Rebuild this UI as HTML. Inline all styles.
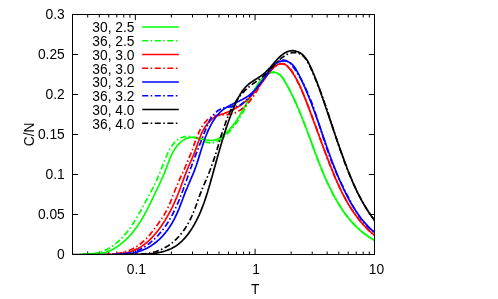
<!DOCTYPE html>
<html><head><meta charset="utf-8"><title>C/N vs T</title>
<style>
html,body{margin:0;padding:0;background:#fff;}
body{width:498px;height:299px;overflow:hidden;}
svg{display:block;}
.t{filter:grayscale(1);}
text{font-family:"Liberation Sans",sans-serif;font-size:13.8px;fill:#000;}
</style></head><body>
<svg width="498" height="299" viewBox="0 0 498 299">
<rect width="498" height="299" fill="#fff"/>
<defs><clipPath id="c"><rect x="72.5" y="14" width="302.5" height="241"/></clipPath></defs>
<path d="M72.5,214.5 h5.7 M374.5,214.5 h-5.7 M72.5,174.5 h5.7 M374.5,174.5 h-5.7 M72.5,134.5 h5.7 M374.5,134.5 h-5.7 M72.5,94.5 h5.7 M374.5,94.5 h-5.7 M72.5,54.5 h5.7 M374.5,54.5 h-5.7 M87.71,254.5 v-3 M87.71,14.5 v3 M99.31,254.5 v-3 M99.31,14.5 v3 M108.79,254.5 v-3 M108.79,14.5 v3 M116.81,254.5 v-3 M116.81,14.5 v3 M123.75,254.5 v-3 M123.75,14.5 v3 M129.87,254.5 v-3 M129.87,14.5 v3 M135.35,254.5 v-5.7 M135.35,14.5 v5.7 M171.39,254.5 v-3 M171.39,14.5 v3 M192.47,254.5 v-3 M192.47,14.5 v3 M207.43,254.5 v-3 M207.43,14.5 v3 M219.04,254.5 v-3 M219.04,14.5 v3 M228.51,254.5 v-3 M228.51,14.5 v3 M236.53,254.5 v-3 M236.53,14.5 v3 M243.47,254.5 v-3 M243.47,14.5 v3 M249.60,254.5 v-3 M249.60,14.5 v3 M255.08,254.5 v-5.7 M255.08,14.5 v5.7 M291.12,254.5 v-3 M291.12,14.5 v3 M312.20,254.5 v-3 M312.20,14.5 v3 M327.16,254.5 v-3 M327.16,14.5 v3 M338.76,254.5 v-3 M338.76,14.5 v3 M348.24,254.5 v-3 M348.24,14.5 v3 M356.25,254.5 v-3 M356.25,14.5 v3 M363.20,254.5 v-3 M363.20,14.5 v3 M369.32,254.5 v-3 M369.32,14.5 v3" stroke="#000" stroke-width="1" fill="none"/>
<g clip-path="url(#c)" fill="none" stroke-width="1.7" stroke-linejoin="round">
<path d="M83.9,254.5 L84.7,254.5 L85.6,254.3 L86.4,254.2 L87.2,254.1 L88.0,254.1 L88.8,254.0 L89.6,254.0 L90.4,253.9 L91.2,253.9 L92.0,253.9 L92.8,253.9 L93.7,253.8 L94.5,253.8 L95.3,253.8 L96.1,253.8 L96.9,253.7 L97.7,253.7 L98.4,253.6 L99.2,253.6 L100.0,253.5 L100.8,253.4 L101.6,253.3 L102.4,253.1 L103.2,253.0 L103.9,252.8 L104.7,252.6 L105.5,252.4 L106.2,252.2 L107.0,251.9 L107.7,251.6 L108.5,251.3 L109.2,251.0 L110.0,250.7 L110.7,250.4 L111.4,250.0 L112.1,249.7 L112.8,249.3 L113.6,248.9 L114.3,248.5 L115.0,248.1 L115.7,247.7 L116.3,247.2 L117.0,246.8 L117.7,246.3 L118.4,245.9 L119.0,245.4 L119.7,244.9 L120.3,244.4 L120.9,243.9 L121.6,243.4 L122.2,242.9 L122.8,242.4 L123.4,241.9 L124.0,241.4 L124.6,240.9 L125.2,240.3 L125.8,239.8 L126.3,239.2 L126.9,238.7 L127.5,238.1 L128.0,237.6 L128.6,237.0 L129.1,236.4 L129.7,235.8 L130.2,235.3 L130.7,234.7 L131.2,234.1 L131.7,233.5 L132.2,232.9 L132.7,232.3 L133.2,231.7 L133.7,231.0 L134.2,230.4 L134.7,229.8 L135.2,229.2 L135.6,228.5 L136.1,227.9 L136.6,227.3 L137.0,226.6 L137.5,226.0 L137.9,225.3 L138.4,224.7 L138.8,224.0 L139.2,223.3 L139.7,222.7 L140.1,222.0 L140.5,221.3 L140.9,220.6 L141.3,220.0 L141.8,219.3 L142.2,218.6 L142.6,217.9 L143.0,217.2 L143.4,216.5 L143.8,215.8 L144.2,215.1 L144.5,214.4 L144.9,213.7 L145.3,213.0 L145.7,212.3 L146.1,211.6 L146.5,210.9 L146.8,210.2 L147.2,209.5 L147.6,208.7 L147.9,208.0 L148.3,207.3 L148.7,206.6 L149.0,205.9 L149.4,205.1 L149.8,204.4 L150.1,203.7 L150.5,202.9 L150.8,202.2 L151.2,201.5 L151.5,200.7 L151.9,200.0 L152.2,199.3 L152.6,198.5 L152.9,197.8 L153.3,197.1 L153.6,196.3 L154.0,195.6 L154.3,194.9 L154.7,194.1 L155.0,193.4 L155.4,192.7 L155.7,191.9 L156.1,191.2 L156.4,190.5 L156.8,189.7 L157.1,189.0 L157.5,188.3 L157.8,187.5 L158.2,186.8 L158.5,186.1 L158.9,185.3 L159.2,184.6 L159.6,183.9 L159.9,183.1 L160.3,182.4 L160.6,181.7 L160.9,180.9 L161.3,180.2 L161.6,179.5 L161.9,178.7 L162.3,178.0 L162.6,177.3 L162.9,176.6 L163.2,175.8 L163.5,175.1 L163.9,174.4 L164.2,173.6 L164.5,172.9 L164.8,172.2 L165.0,171.5 L165.3,170.7 L165.6,170.0 L165.9,169.3 L166.2,168.6 L166.4,167.8 L166.7,167.1 L167.0,166.4 L167.2,165.7 L167.5,165.0 L167.7,164.2 L168.0,163.5 L168.3,162.8 L168.5,162.1 L168.8,161.4 L169.1,160.6 L169.4,159.9 L169.6,159.2 L169.9,158.5 L170.2,157.8 L170.5,157.1 L170.9,156.3 L171.2,155.6 L171.5,154.9 L171.9,154.2 L172.2,153.5 L172.6,152.8 L173.0,152.1 L173.4,151.4 L173.8,150.7 L174.3,149.9 L174.7,149.2 L175.2,148.5 L175.7,147.8 L176.2,147.1 L176.7,146.5 L177.2,145.8 L177.8,145.1 L178.3,144.5 L178.9,143.9 L179.5,143.3 L180.1,142.7 L180.7,142.1 L181.3,141.6 L182.0,141.1 L182.6,140.6 L183.3,140.1 L184.0,139.7 L184.6,139.3 L185.3,138.9 L186.0,138.6 L186.7,138.3 L187.5,138.1 L188.2,137.9 L188.9,137.7 L189.7,137.6 L190.4,137.5 L191.2,137.4 L191.9,137.4 L192.7,137.4 L193.5,137.4 L194.3,137.5 L195.1,137.6 L195.9,137.7 L196.6,137.8 L197.4,138.0 L198.2,138.1 L199.1,138.3 L199.9,138.5 L200.7,138.6 L201.5,138.8 L202.3,139.0 L203.1,139.2 L203.9,139.4 L204.7,139.6 L205.5,139.7 L206.3,139.9 L207.1,140.0 L207.9,140.2 L208.7,140.3 L209.5,140.4 L210.3,140.4 L211.1,140.5 L211.9,140.5 L212.6,140.4 L213.4,140.3 L214.2,140.2 L214.9,140.1 L215.7,139.8 L216.4,139.6 L217.1,139.3 L217.8,138.9 L218.6,138.5 L219.3,138.1 L219.9,137.7 L220.6,137.2 L221.3,136.8 L221.9,136.3 L222.6,135.8 L223.2,135.3 L223.9,134.8 L224.5,134.3 L225.1,133.8 L225.7,133.3 L226.3,132.8 L226.8,132.2 L227.4,131.7 L228.0,131.1 L228.5,130.6 L229.1,130.0 L229.6,129.4 L230.1,128.8 L230.7,128.2 L231.2,127.6 L231.7,127.0 L232.2,126.4 L232.7,125.8 L233.2,125.2 L233.6,124.6 L234.1,123.9 L234.6,123.3 L235.0,122.7 L235.5,122.0 L235.9,121.4 L236.4,120.7 L236.8,120.0 L237.3,119.4 L237.7,118.7 L238.1,118.0 L238.6,117.3 L239.0,116.7 L239.4,116.0 L239.8,115.3 L240.2,114.6 L240.6,113.9 L241.0,113.2 L241.4,112.5 L241.8,111.8 L242.2,111.1 L242.6,110.4 L243.0,109.7 L243.4,109.0 L243.8,108.3 L244.2,107.6 L244.6,106.9 L245.0,106.2 L245.4,105.4 L245.8,104.7 L246.2,104.0 L246.6,103.3 L247.0,102.6 L247.4,101.9 L247.8,101.2 L248.2,100.5 L248.6,99.8 L249.0,99.1 L249.4,98.3 L249.8,97.6 L250.2,96.9 L250.6,96.2 L251.0,95.5 L251.4,94.8 L251.8,94.1 L252.2,93.5 L252.7,92.8 L253.1,92.1 L253.5,91.4 L253.9,90.7 L254.3,90.0 L254.7,89.4 L255.1,88.7 L255.5,88.0 L255.9,87.4 L256.3,86.7 L256.7,86.0 L257.1,85.4 L257.5,84.7 L258.0,84.1 L258.4,83.4 L258.8,82.8 L259.2,82.2 L259.7,81.5 L260.2,80.9 L260.7,80.3 L261.2,79.7 L261.7,79.1 L262.3,78.4 L262.8,77.8 L263.4,77.3 L264.1,76.7 L264.7,76.1 L265.4,75.6 L266.0,75.1 L266.7,74.6 L267.4,74.2 L268.1,73.7 L268.9,73.4 L269.6,73.1 L270.3,72.8 L271.1,72.6 L271.8,72.4 L272.5,72.3 L273.3,72.2 L274.0,72.3 L274.7,72.4 L275.4,72.5 L276.2,72.7 L276.8,73.0 L277.5,73.3 L278.2,73.6 L278.8,74.1 L279.4,74.5 L280.0,75.0 L280.6,75.5 L281.1,76.1 L281.6,76.7 L282.1,77.3 L282.6,77.9 L283.1,78.6 L283.5,79.2 L284.0,79.9 L284.4,80.6 L284.8,81.3 L285.2,82.0 L285.6,82.8 L286.0,83.5 L286.4,84.2 L286.8,84.9 L287.2,85.6 L287.6,86.3 L288.0,87.1 L288.4,87.8 L288.8,88.5 L289.2,89.2 L289.5,89.9 L289.9,90.7 L290.3,91.4 L290.7,92.1 L291.0,92.8 L291.4,93.6 L291.7,94.3 L292.1,95.0 L292.5,95.7 L292.8,96.5 L293.2,97.2 L293.5,97.9 L293.9,98.7 L294.2,99.4 L294.5,100.1 L294.9,100.9 L295.2,101.6 L295.5,102.3 L295.9,103.1 L296.2,103.8 L296.5,104.5 L296.9,105.3 L297.2,106.0 L297.5,106.7 L297.8,107.5 L298.1,108.2 L298.5,108.9 L298.8,109.7 L299.1,110.4 L299.4,111.2 L299.7,111.9 L300.0,112.6 L300.3,113.4 L300.6,114.1 L300.9,114.9 L301.2,115.6 L301.5,116.3 L301.8,117.1 L302.1,117.8 L302.4,118.6 L302.7,119.3 L303.0,120.1 L303.3,120.8 L303.6,121.5 L303.9,122.3 L304.2,123.0 L304.5,123.8 L304.7,124.5 L305.0,125.3 L305.3,126.0 L305.6,126.8 L305.9,127.5 L306.2,128.2 L306.5,129.0 L306.7,129.7 L307.0,130.5 L307.3,131.2 L307.6,132.0 L307.8,132.7 L308.1,133.5 L308.4,134.2 L308.7,135.0 L309.0,135.7 L309.2,136.5 L309.5,137.2 L309.8,138.0 L310.1,138.7 L310.3,139.4 L310.6,140.2 L310.9,140.9 L311.2,141.7 L311.4,142.4 L311.7,143.2 L312.0,143.9 L312.3,144.7 L312.5,145.4 L312.8,146.2 L313.1,146.9 L313.4,147.7 L313.6,148.4 L313.9,149.2 L314.2,149.9 L314.5,150.7 L314.7,151.4 L315.0,152.1 L315.3,152.9 L315.6,153.6 L315.9,154.4 L316.1,155.1 L316.4,155.9 L316.7,156.6 L317.0,157.4 L317.3,158.1 L317.5,158.9 L317.8,159.6 L318.1,160.3 L318.4,161.1 L318.7,161.8 L319.0,162.6 L319.3,163.3 L319.6,164.1 L319.9,164.8 L320.1,165.5 L320.4,166.3 L320.7,167.0 L321.0,167.8 L321.3,168.5 L321.6,169.2 L321.9,170.0 L322.2,170.7 L322.5,171.5 L322.9,172.2 L323.2,172.9 L323.5,173.7 L323.8,174.4 L324.1,175.1 L324.4,175.9 L324.7,176.6 L325.0,177.3 L325.4,178.1 L325.7,178.8 L326.0,179.5 L326.3,180.3 L326.7,181.0 L327.0,181.7 L327.3,182.5 L327.7,183.2 L328.0,183.9 L328.3,184.7 L328.7,185.4 L329.0,186.1 L329.4,186.8 L329.7,187.6 L330.1,188.3 L330.4,189.0 L330.8,189.7 L331.1,190.5 L331.5,191.2 L331.9,191.9 L332.2,192.6 L332.6,193.3 L333.0,194.0 L333.4,194.8 L333.7,195.5 L334.1,196.2 L334.5,196.9 L334.9,197.6 L335.3,198.3 L335.7,199.0 L336.1,199.7 L336.5,200.4 L336.9,201.1 L337.3,201.8 L337.7,202.5 L338.1,203.2 L338.5,203.9 L338.9,204.6 L339.4,205.2 L339.8,205.9 L340.2,206.6 L340.6,207.3 L341.1,207.9 L341.5,208.6 L342.0,209.3 L342.4,209.9 L342.9,210.6 L343.3,211.3 L343.8,211.9 L344.2,212.6 L344.7,213.2 L345.2,213.9 L345.7,214.5 L346.1,215.1 L346.6,215.8 L347.1,216.4 L347.6,217.0 L348.1,217.6 L348.6,218.3 L349.1,218.9 L349.6,219.5 L350.1,220.1 L350.6,220.7 L351.2,221.3 L351.7,221.9 L352.2,222.5 L352.8,223.1 L353.3,223.7 L353.8,224.2 L354.4,224.8 L354.9,225.4 L355.5,225.9 L356.1,226.5 L356.6,227.0 L357.2,227.6 L357.8,228.1 L358.4,228.7 L359.0,229.2 L359.6,229.7 L360.2,230.3 L360.8,230.8 L361.4,231.3 L362.0,231.8 L362.6,232.3 L363.2,232.8 L363.9,233.3 L364.5,233.8 L365.1,234.3 L365.8,234.7 L366.4,235.2 L367.1,235.7 L367.8,236.1 L368.4,236.6 L369.1,237.0 L369.8,237.5 L370.5,237.9 L371.2,238.3 L371.9,238.7 L372.6,239.2 L373.3,239.6 L374.0,240.0 L374.5,240.3" stroke="#00ff00"/>
<path d="M80.0,254.5 L80.8,254.4 L81.6,254.3 L82.4,254.3 L83.2,254.2 L84.0,254.2 L84.8,254.1 L85.6,254.1 L86.4,254.0 L87.2,254.0 L88.0,254.0 L88.8,253.9 L89.6,253.9 L90.4,253.8 L91.2,253.8 L92.0,253.7 L92.8,253.6 L93.6,253.5 L94.4,253.4 L95.2,253.3 L96.0,253.2 L96.7,253.0 L97.5,252.8 L98.3,252.7 L99.1,252.4 L99.8,252.2 L100.6,252.0 L101.4,251.7 L102.1,251.5 L102.9,251.2 L103.6,250.9 L104.3,250.6 L105.1,250.2 L105.8,249.9 L106.5,249.5 L107.2,249.2 L108.0,248.8 L108.7,248.4 L109.4,248.0 L110.1,247.6 L110.7,247.1 L111.4,246.7 L112.1,246.3 L112.7,245.8 L113.4,245.3 L114.0,244.9 L114.7,244.4 L115.3,243.9 L115.9,243.4 L116.6,242.9 L117.2,242.4 L117.8,241.9 L118.4,241.4 L118.9,240.8 L119.5,240.3 L120.1,239.8 L120.7,239.2 L121.2,238.7 L121.8,238.1 L122.3,237.5 L122.8,237.0 L123.4,236.4 L123.9,235.8 L124.4,235.2 L124.9,234.6 L125.4,234.0 L126.0,233.4 L126.4,232.8 L126.9,232.2 L127.4,231.5 L127.9,230.9 L128.4,230.3 L128.9,229.6 L129.3,229.0 L129.8,228.4 L130.3,227.7 L130.7,227.1 L131.2,226.4 L131.6,225.7 L132.0,225.1 L132.5,224.4 L132.9,223.7 L133.4,223.1 L133.8,222.4 L134.2,221.7 L134.6,221.0 L135.1,220.3 L135.5,219.6 L135.9,219.0 L136.3,218.3 L136.7,217.6 L137.1,216.9 L137.5,216.2 L137.9,215.5 L138.3,214.8 L138.7,214.1 L139.1,213.3 L139.5,212.6 L139.9,211.9 L140.3,211.2 L140.7,210.5 L141.1,209.8 L141.5,209.1 L141.9,208.4 L142.2,207.6 L142.6,206.9 L143.0,206.2 L143.4,205.5 L143.8,204.8 L144.2,204.1 L144.6,203.4 L145.0,202.6 L145.4,201.9 L145.7,201.2 L146.1,200.5 L146.5,199.8 L146.9,199.1 L147.3,198.4 L147.7,197.7 L148.1,196.9 L148.5,196.2 L148.9,195.5 L149.2,194.8 L149.6,194.1 L150.0,193.4 L150.4,192.7 L150.8,192.0 L151.2,191.3 L151.5,190.6 L151.9,189.8 L152.3,189.1 L152.6,188.4 L153.0,187.7 L153.4,187.0 L153.7,186.3 L154.1,185.6 L154.4,184.9 L154.8,184.2 L155.1,183.5 L155.5,182.8 L155.8,182.0 L156.1,181.3 L156.5,180.6 L156.8,179.9 L157.1,179.2 L157.4,178.5 L157.7,177.8 L158.0,177.0 L158.3,176.3 L158.6,175.6 L158.9,174.9 L159.2,174.2 L159.5,173.5 L159.8,172.7 L160.1,172.0 L160.3,171.3 L160.6,170.6 L160.9,169.8 L161.2,169.1 L161.5,168.4 L161.8,167.7 L162.0,166.9 L162.3,166.2 L162.6,165.5 L162.9,164.7 L163.2,164.0 L163.5,163.3 L163.8,162.5 L164.1,161.8 L164.4,161.1 L164.7,160.3 L165.0,159.6 L165.3,158.8 L165.6,158.1 L165.9,157.3 L166.3,156.6 L166.6,155.8 L166.9,155.1 L167.3,154.3 L167.6,153.6 L168.0,152.8 L168.4,152.1 L168.7,151.3 L169.1,150.6 L169.5,149.8 L169.9,149.1 L170.3,148.4 L170.8,147.6 L171.2,146.9 L171.6,146.2 L172.1,145.5 L172.6,144.9 L173.1,144.2 L173.6,143.6 L174.1,143.0 L174.6,142.4 L175.2,141.8 L175.8,141.2 L176.4,140.7 L177.0,140.2 L177.6,139.7 L178.2,139.3 L178.9,138.8 L179.6,138.5 L180.3,138.1 L181.0,137.8 L181.7,137.5 L182.5,137.2 L183.2,137.0 L184.0,136.8 L184.7,136.6 L185.5,136.5 L186.2,136.4 L187.0,136.4 L187.8,136.4 L188.5,136.4 L189.3,136.4 L190.1,136.5 L190.9,136.6 L191.7,136.8 L192.5,137.0 L193.2,137.2 L194.0,137.4 L194.8,137.6 L195.6,137.9 L196.4,138.2 L197.2,138.5 L198.0,138.9 L198.8,139.2 L199.5,139.6 L200.3,139.9 L201.1,140.3 L201.9,140.6 L202.7,140.9 L203.5,141.2 L204.2,141.5 L205.0,141.8 L205.8,142.0 L206.6,142.3 L207.3,142.4 L208.1,142.6 L208.9,142.7 L209.6,142.8 L210.4,142.8 L211.1,142.8 L211.8,142.8 L212.6,142.7 L213.3,142.6 L214.0,142.4 L214.8,142.3 L215.5,142.0 L216.2,141.8 L216.9,141.5 L217.6,141.2 L218.3,140.8 L218.9,140.4 L219.6,140.0 L220.3,139.6 L220.9,139.1 L221.6,138.7 L222.2,138.2 L222.9,137.7 L223.5,137.2 L224.1,136.7 L224.7,136.2 L225.3,135.7 L225.9,135.1 L226.5,134.6 L227.1,134.1 L227.6,133.5 L228.2,133.0 L228.7,132.4 L229.3,131.8 L229.8,131.2 L230.4,130.7 L230.9,130.1 L231.4,129.5 L231.9,128.9 L232.4,128.3 L232.9,127.6 L233.4,127.0 L233.9,126.4 L234.4,125.8 L234.9,125.1 L235.3,124.5 L235.8,123.8 L236.3,123.2 L236.7,122.5 L237.2,121.8 L237.6,121.2 L238.1,120.5 L238.5,119.8 L239.0,119.2 L239.4,118.5 L239.8,117.8 L240.2,117.1 L240.7,116.4 L241.1,115.7 L241.5,115.0 L241.9,114.3 L242.3,113.6 L242.7,112.9 L243.1,112.2 L243.5,111.5 L243.9,110.8 L244.3,110.0 L244.7,109.3 L245.1,108.6 L245.4,107.9 L245.8,107.2 L246.2,106.5 L246.6,105.7 L247.0,105.0 L247.3,104.3 L247.7,103.6 L248.1,102.8 L248.5,102.1 L248.8,101.4 L249.2,100.7 L249.6,100.0 L249.9,99.2 L250.3,98.5 L250.7,97.8 L251.0,97.1 L251.4,96.4 L251.8,95.6 L252.1,94.9 L252.5,94.2 L252.9,93.5 L253.2,92.8 L253.6,92.1 L254.0,91.4 L254.4,90.7 L254.8,90.0 L255.1,89.3 L255.5,88.6 L255.9,87.9 L256.3,87.3 L256.8,86.6 L257.2,85.9 L257.6,85.2 L258.0,84.6 L258.5,83.9 L258.9,83.3 L259.4,82.6 L259.9,82.0 L260.3,81.3 L260.8,80.7 L261.4,80.0 L261.9,79.4 L262.4,78.8 L263.0,78.2 L263.5,77.6 L264.1,77.0 L264.7,76.4 L265.3,75.9 L265.9,75.4 L266.5,74.9 L267.2,74.4 L267.8,74.0 L268.5,73.6 L269.2,73.3 L269.8,73.0 L270.5,72.7 L271.3,72.5 L272.0,72.4 L272.7,72.3 L273.5,72.3 L274.2,72.4 L275.0,72.5 L275.7,72.7 L276.4,72.9 L277.2,73.2 L277.9,73.6 L278.6,73.9 L279.3,74.4 L279.9,74.8 L280.5,75.3 L281.1,75.9 L281.6,76.5 L282.1,77.0 L282.6,77.7 L283.1,78.3 L283.5,79.0 L284.0,79.7 L284.4,80.3 L284.8,81.0 L285.2,81.7 L285.6,82.5 L286.0,83.2 L286.4,83.9 L286.8,84.6 L287.2,85.3 L287.6,86.0 L288.0,86.7 L288.4,87.4 L288.7,88.2 L289.1,88.9 L289.5,89.6 L289.8,90.3 L290.2,91.0 L290.6,91.8 L290.9,92.5 L291.3,93.2 L291.6,93.9 L292.0,94.7 L292.4,95.4 L292.7,96.1 L293.0,96.8 L293.4,97.6 L293.7,98.3 L294.1,99.0 L294.4,99.7 L294.7,100.5 L295.1,101.2 L295.4,101.9 L295.7,102.7 L296.1,103.4 L296.4,104.1 L296.7,104.9 L297.0,105.6 L297.3,106.3 L297.7,107.1 L298.0,107.8 L298.3,108.5 L298.6,109.3 L298.9,110.0 L299.2,110.8 L299.5,111.5 L299.8,112.2 L300.1,113.0 L300.4,113.7 L300.7,114.5 L301.0,115.2 L301.3,115.9 L301.6,116.7 L301.9,117.4 L302.2,118.2 L302.5,118.9 L302.8,119.7 L303.1,120.4 L303.4,121.1 L303.7,121.9 L304.0,122.6 L304.3,123.4 L304.5,124.1 L304.8,124.9 L305.1,125.6 L305.4,126.4 L305.7,127.1 L306.0,127.9 L306.2,128.6 L306.5,129.3 L306.8,130.1 L307.1,130.8 L307.4,131.6 L307.6,132.3 L307.9,133.1 L308.2,133.8 L308.5,134.6 L308.7,135.3 L309.0,136.1 L309.3,136.8 L309.6,137.6 L309.8,138.3 L310.1,139.1 L310.4,139.8 L310.7,140.6 L310.9,141.3 L311.2,142.1 L311.5,142.8 L311.8,143.6 L312.0,144.3 L312.3,145.1 L312.6,145.8 L312.9,146.6 L313.1,147.3 L313.4,148.1 L313.7,148.8 L314.0,149.6 L314.3,150.3 L314.5,151.1 L314.8,151.8 L315.1,152.5 L315.4,153.3 L315.7,154.0 L315.9,154.8 L316.2,155.5 L316.5,156.3 L316.8,157.0 L317.1,157.8 L317.4,158.5 L317.6,159.3 L317.9,160.0 L318.2,160.8 L318.5,161.5 L318.8,162.2 L319.1,163.0 L319.4,163.7 L319.7,164.5 L320.0,165.2 L320.3,166.0 L320.6,166.7 L320.9,167.4 L321.2,168.2 L321.5,168.9 L321.8,169.7 L322.1,170.4 L322.4,171.1 L322.7,171.9 L323.0,172.6 L323.3,173.4 L323.6,174.1 L323.9,174.8 L324.2,175.6 L324.6,176.3 L324.9,177.0 L325.2,177.8 L325.5,178.5 L325.8,179.2 L326.2,180.0 L326.5,180.7 L326.8,181.4 L327.2,182.2 L327.5,182.9 L327.8,183.6 L328.2,184.4 L328.5,185.1 L328.9,185.8 L329.2,186.5 L329.6,187.3 L329.9,188.0 L330.3,188.7 L330.6,189.4 L331.0,190.2 L331.4,190.9 L331.7,191.6 L332.1,192.3 L332.5,193.0 L332.8,193.7 L333.2,194.5 L333.6,195.2 L334.0,195.9 L334.4,196.6 L334.7,197.3 L335.1,198.0 L335.5,198.7 L335.9,199.4 L336.3,200.1 L336.7,200.8 L337.1,201.5 L337.5,202.2 L337.9,202.9 L338.4,203.6 L338.8,204.2 L339.2,204.9 L339.6,205.6 L340.1,206.3 L340.5,207.0 L340.9,207.6 L341.4,208.3 L341.8,209.0 L342.3,209.6 L342.7,210.3 L343.2,211.0 L343.6,211.6 L344.1,212.3 L344.5,212.9 L345.0,213.6 L345.5,214.2 L346.0,214.8 L346.5,215.5 L346.9,216.1 L347.4,216.7 L347.9,217.3 L348.4,218.0 L348.9,218.6 L349.4,219.2 L349.9,219.8 L350.5,220.4 L351.0,221.0 L351.5,221.6 L352.0,222.2 L352.6,222.8 L353.1,223.4 L353.6,223.9 L354.2,224.5 L354.7,225.1 L355.3,225.7 L355.8,226.2 L356.4,226.8 L357.0,227.3 L357.6,227.9 L358.1,228.4 L358.7,229.0 L359.3,229.5 L359.9,230.0 L360.5,230.5 L361.1,231.1 L361.7,231.6 L362.3,232.1 L363.0,232.6 L363.6,233.1 L364.2,233.6 L364.8,234.0 L365.5,234.5 L366.1,235.0 L366.8,235.5 L367.4,235.9 L368.1,236.4 L368.8,236.8 L369.4,237.3 L370.1,237.7 L370.8,238.1 L371.5,238.6 L372.2,239.0 L372.9,239.4 L373.6,239.8 L374.3,240.2 L374.5,240.3" stroke="#00ff00" stroke-dasharray="6 2.4 1.6 2.6"/>
<path d="M110.0,254.4 L110.8,254.4 L111.6,254.5 L112.4,254.4 L113.2,254.4 L114.0,254.4 L114.8,254.4 L115.6,254.3 L116.4,254.3 L117.2,254.2 L118.0,254.1 L118.8,254.1 L119.6,254.0 L120.4,253.9 L121.2,253.7 L122.0,253.6 L122.8,253.5 L123.6,253.3 L124.4,253.2 L125.2,253.0 L125.9,252.9 L126.7,252.7 L127.5,252.5 L128.3,252.3 L129.0,252.0 L129.8,251.8 L130.5,251.6 L131.3,251.3 L132.0,251.1 L132.8,250.8 L133.5,250.5 L134.2,250.2 L135.0,249.9 L135.7,249.6 L136.4,249.2 L137.1,248.9 L137.8,248.5 L138.5,248.2 L139.2,247.8 L139.9,247.4 L140.6,247.0 L141.2,246.6 L141.9,246.1 L142.6,245.7 L143.2,245.2 L143.9,244.8 L144.5,244.3 L145.1,243.8 L145.8,243.3 L146.4,242.8 L147.0,242.3 L147.6,241.8 L148.2,241.2 L148.8,240.7 L149.4,240.1 L150.0,239.6 L150.5,239.0 L151.1,238.4 L151.7,237.9 L152.2,237.3 L152.8,236.7 L153.3,236.1 L153.9,235.5 L154.4,234.9 L154.9,234.2 L155.5,233.6 L156.0,233.0 L156.5,232.4 L157.0,231.7 L157.5,231.1 L158.0,230.5 L158.5,229.8 L159.0,229.2 L159.5,228.5 L160.0,227.9 L160.4,227.2 L160.9,226.6 L161.4,225.9 L161.8,225.2 L162.3,224.6 L162.7,223.9 L163.2,223.3 L163.6,222.6 L164.0,221.9 L164.5,221.2 L164.9,220.6 L165.3,219.9 L165.7,219.2 L166.1,218.5 L166.5,217.8 L166.9,217.1 L167.3,216.5 L167.7,215.8 L168.1,215.1 L168.5,214.4 L168.9,213.7 L169.3,213.0 L169.6,212.3 L170.0,211.6 L170.4,210.9 L170.7,210.2 L171.1,209.5 L171.5,208.7 L171.8,208.0 L172.2,207.3 L172.5,206.6 L172.9,205.9 L173.2,205.2 L173.5,204.5 L173.9,203.7 L174.2,203.0 L174.5,202.3 L174.8,201.6 L175.2,200.8 L175.5,200.1 L175.8,199.4 L176.1,198.7 L176.4,197.9 L176.7,197.2 L177.0,196.5 L177.3,195.7 L177.6,195.0 L177.9,194.3 L178.2,193.5 L178.5,192.8 L178.8,192.0 L179.1,191.3 L179.4,190.6 L179.6,189.8 L179.9,189.1 L180.2,188.3 L180.5,187.6 L180.8,186.8 L181.0,186.1 L181.3,185.3 L181.6,184.6 L181.9,183.9 L182.1,183.1 L182.4,182.4 L182.7,181.6 L182.9,180.9 L183.2,180.1 L183.5,179.4 L183.8,178.6 L184.1,177.9 L184.3,177.1 L184.6,176.4 L184.9,175.6 L185.2,174.8 L185.5,174.1 L185.8,173.3 L186.1,172.6 L186.3,171.8 L186.6,171.1 L186.9,170.3 L187.3,169.6 L187.6,168.8 L187.9,168.1 L188.2,167.3 L188.5,166.6 L188.8,165.8 L189.2,165.1 L189.5,164.3 L189.8,163.6 L190.1,162.8 L190.5,162.1 L190.8,161.3 L191.1,160.6 L191.4,159.8 L191.8,159.1 L192.1,158.3 L192.4,157.6 L192.7,156.8 L193.0,156.1 L193.4,155.3 L193.7,154.6 L194.0,153.8 L194.3,153.1 L194.6,152.3 L194.9,151.6 L195.2,150.9 L195.4,150.1 L195.7,149.4 L196.0,148.6 L196.3,147.9 L196.5,147.2 L196.8,146.4 L197.0,145.7 L197.3,145.0 L197.5,144.2 L197.8,143.5 L198.0,142.8 L198.3,142.0 L198.5,141.3 L198.8,140.6 L199.0,139.9 L199.3,139.1 L199.5,138.4 L199.8,137.7 L200.1,137.0 L200.4,136.2 L200.7,135.5 L201.0,134.8 L201.3,134.1 L201.6,133.4 L201.9,132.7 L202.3,132.0 L202.6,131.3 L203.0,130.6 L203.4,129.9 L203.8,129.2 L204.2,128.5 L204.6,127.8 L205.1,127.1 L205.5,126.4 L206.0,125.7 L206.5,125.0 L207.0,124.3 L207.5,123.7 L208.1,123.0 L208.6,122.4 L209.2,121.8 L209.8,121.2 L210.4,120.6 L211.0,120.0 L211.6,119.4 L212.2,118.9 L212.8,118.4 L213.5,117.9 L214.1,117.4 L214.8,117.0 L215.5,116.6 L216.1,116.3 L216.8,116.0 L217.5,115.7 L218.2,115.4 L218.9,115.1 L219.6,114.9 L220.3,114.7 L221.1,114.4 L221.8,114.2 L222.5,114.0 L223.2,113.7 L224.0,113.5 L224.7,113.2 L225.4,112.9 L226.2,112.7 L226.9,112.4 L227.7,112.1 L228.4,111.8 L229.1,111.5 L229.9,111.1 L230.6,110.8 L231.4,110.5 L232.1,110.1 L232.8,109.7 L233.6,109.4 L234.3,109.0 L235.0,108.6 L235.7,108.2 L236.4,107.8 L237.1,107.4 L237.8,107.0 L238.5,106.6 L239.2,106.1 L239.9,105.7 L240.6,105.2 L241.2,104.8 L241.9,104.3 L242.5,103.8 L243.1,103.3 L243.8,102.8 L244.4,102.3 L245.0,101.8 L245.6,101.3 L246.2,100.8 L246.8,100.3 L247.4,99.7 L248.0,99.2 L248.5,98.6 L249.1,98.1 L249.7,97.5 L250.2,97.0 L250.8,96.4 L251.3,95.8 L251.8,95.2 L252.4,94.6 L252.9,94.1 L253.4,93.5 L253.9,92.9 L254.4,92.3 L255.0,91.6 L255.5,91.0 L256.0,90.4 L256.5,89.8 L257.0,89.2 L257.5,88.5 L257.9,87.9 L258.4,87.3 L258.9,86.6 L259.4,86.0 L259.9,85.4 L260.3,84.7 L260.8,84.1 L261.3,83.4 L261.8,82.8 L262.2,82.1 L262.7,81.5 L263.2,80.8 L263.7,80.2 L264.1,79.5 L264.6,78.9 L265.1,78.2 L265.5,77.5 L266.0,76.9 L266.5,76.2 L267.0,75.6 L267.4,74.9 L267.9,74.3 L268.4,73.6 L268.9,73.0 L269.4,72.3 L269.9,71.7 L270.4,71.1 L270.9,70.4 L271.5,69.8 L272.0,69.2 L272.6,68.6 L273.2,68.1 L273.8,67.5 L274.4,66.9 L275.0,66.4 L275.7,65.9 L276.4,65.4 L277.1,65.0 L277.8,64.6 L278.5,64.3 L279.2,64.0 L279.9,63.8 L280.6,63.6 L281.3,63.5 L282.1,63.5 L282.8,63.6 L283.5,63.7 L284.1,63.9 L284.8,64.2 L285.5,64.6 L286.1,65.1 L286.7,65.6 L287.3,66.1 L287.9,66.8 L288.4,67.4 L289.0,68.1 L289.5,68.7 L290.1,69.4 L290.6,70.1 L291.1,70.8 L291.6,71.5 L292.1,72.1 L292.5,72.8 L293.0,73.5 L293.5,74.2 L293.9,74.9 L294.4,75.6 L294.8,76.3 L295.2,77.0 L295.6,77.7 L296.0,78.4 L296.4,79.1 L296.8,79.8 L297.2,80.5 L297.6,81.2 L297.9,81.9 L298.3,82.6 L298.7,83.3 L299.0,84.0 L299.3,84.7 L299.7,85.4 L300.0,86.1 L300.3,86.8 L300.7,87.5 L301.0,88.3 L301.3,89.0 L301.6,89.7 L301.9,90.4 L302.2,91.1 L302.5,91.9 L302.8,92.6 L303.1,93.3 L303.4,94.0 L303.7,94.7 L304.0,95.5 L304.3,96.2 L304.5,96.9 L304.8,97.7 L305.1,98.4 L305.4,99.1 L305.7,99.8 L305.9,100.6 L306.2,101.3 L306.5,102.0 L306.8,102.8 L307.1,103.5 L307.3,104.3 L307.6,105.0 L307.9,105.7 L308.2,106.5 L308.5,107.2 L308.7,107.9 L309.0,108.7 L309.3,109.4 L309.6,110.2 L309.8,110.9 L310.1,111.7 L310.4,112.4 L310.7,113.2 L311.0,113.9 L311.2,114.6 L311.5,115.4 L311.8,116.1 L312.1,116.9 L312.3,117.6 L312.6,118.4 L312.9,119.1 L313.2,119.9 L313.4,120.6 L313.7,121.4 L314.0,122.1 L314.3,122.9 L314.6,123.6 L314.8,124.4 L315.1,125.1 L315.4,125.9 L315.7,126.7 L315.9,127.4 L316.2,128.2 L316.5,128.9 L316.8,129.7 L317.1,130.4 L317.3,131.2 L317.6,131.9 L317.9,132.7 L318.2,133.5 L318.5,134.2 L318.7,135.0 L319.0,135.7 L319.3,136.5 L319.6,137.2 L319.9,138.0 L320.1,138.8 L320.4,139.5 L320.7,140.3 L321.0,141.0 L321.3,141.8 L321.6,142.5 L321.8,143.3 L322.1,144.1 L322.4,144.8 L322.7,145.6 L323.0,146.3 L323.2,147.1 L323.5,147.8 L323.8,148.6 L324.1,149.4 L324.4,150.1 L324.7,150.9 L325.0,151.6 L325.2,152.4 L325.5,153.1 L325.8,153.9 L326.1,154.7 L326.4,155.4 L326.7,156.2 L327.0,156.9 L327.3,157.7 L327.5,158.4 L327.8,159.2 L328.1,159.9 L328.4,160.7 L328.7,161.4 L329.0,162.2 L329.3,162.9 L329.6,163.7 L329.9,164.5 L330.2,165.2 L330.5,166.0 L330.8,166.7 L331.1,167.5 L331.4,168.2 L331.7,168.9 L332.0,169.7 L332.3,170.4 L332.6,171.2 L332.9,171.9 L333.2,172.7 L333.5,173.4 L333.8,174.2 L334.1,174.9 L334.4,175.6 L334.7,176.4 L335.0,177.1 L335.3,177.9 L335.6,178.6 L336.0,179.3 L336.3,180.1 L336.6,180.8 L336.9,181.5 L337.2,182.3 L337.6,183.0 L337.9,183.7 L338.2,184.4 L338.5,185.2 L338.9,185.9 L339.2,186.6 L339.5,187.3 L339.9,188.1 L340.2,188.8 L340.6,189.5 L340.9,190.2 L341.3,190.9 L341.6,191.6 L342.0,192.4 L342.3,193.1 L342.7,193.8 L343.0,194.5 L343.4,195.2 L343.8,195.9 L344.1,196.6 L344.5,197.3 L344.9,198.0 L345.3,198.7 L345.7,199.4 L346.0,200.1 L346.4,200.8 L346.8,201.4 L347.2,202.1 L347.6,202.8 L348.0,203.5 L348.4,204.2 L348.8,204.9 L349.2,205.5 L349.6,206.2 L350.1,206.9 L350.5,207.5 L350.9,208.2 L351.3,208.9 L351.8,209.5 L352.2,210.2 L352.6,210.9 L353.1,211.5 L353.5,212.2 L354.0,212.8 L354.4,213.5 L354.9,214.1 L355.4,214.8 L355.8,215.4 L356.3,216.0 L356.8,216.7 L357.2,217.3 L357.7,217.9 L358.2,218.6 L358.7,219.2 L359.2,219.8 L359.7,220.4 L360.2,221.0 L360.7,221.6 L361.2,222.3 L361.8,222.9 L362.3,223.5 L362.8,224.1 L363.4,224.7 L363.9,225.3 L364.4,225.9 L365.0,226.4 L365.6,227.0 L366.1,227.6 L366.7,228.2 L367.2,228.8 L367.8,229.3 L368.4,229.9 L369.0,230.5 L369.6,231.0 L370.2,231.6 L370.8,232.2 L371.4,232.7 L372.0,233.3 L372.6,233.8 L373.3,234.4 L373.9,234.9 L374.4,235.4" stroke="#ff0000"/>
<path d="M104.0,254.5 L104.8,254.5 L105.6,254.4 L106.4,254.3 L107.2,254.3 L108.0,254.2 L108.8,254.2 L109.5,254.1 L110.3,254.1 L111.1,254.0 L111.9,253.9 L112.7,253.9 L113.6,253.8 L114.4,253.7 L115.2,253.6 L116.0,253.6 L116.8,253.5 L117.6,253.4 L118.4,253.2 L119.1,253.1 L119.9,253.0 L120.7,252.8 L121.5,252.7 L122.3,252.5 L123.1,252.3 L123.9,252.1 L124.6,251.9 L125.4,251.7 L126.2,251.4 L127.0,251.2 L127.7,250.9 L128.5,250.6 L129.2,250.3 L130.0,250.0 L130.7,249.7 L131.4,249.4 L132.1,249.0 L132.9,248.7 L133.6,248.3 L134.3,247.9 L135.0,247.5 L135.7,247.1 L136.3,246.7 L137.0,246.3 L137.7,245.8 L138.3,245.4 L139.0,245.0 L139.6,244.5 L140.2,244.0 L140.8,243.5 L141.5,243.0 L142.1,242.5 L142.7,242.0 L143.2,241.5 L143.8,241.0 L144.4,240.5 L145.0,239.9 L145.5,239.4 L146.1,238.8 L146.6,238.3 L147.2,237.7 L147.7,237.1 L148.2,236.5 L148.7,235.9 L149.3,235.3 L149.8,234.7 L150.3,234.1 L150.8,233.5 L151.3,232.9 L151.8,232.3 L152.3,231.7 L152.8,231.0 L153.3,230.4 L153.8,229.8 L154.3,229.1 L154.7,228.5 L155.2,227.8 L155.7,227.2 L156.2,226.5 L156.7,225.8 L157.1,225.2 L157.6,224.5 L158.1,223.8 L158.6,223.2 L159.0,222.5 L159.5,221.8 L160.0,221.1 L160.5,220.5 L160.9,219.8 L161.4,219.1 L161.9,218.4 L162.3,217.7 L162.8,217.0 L163.2,216.3 L163.6,215.6 L164.1,214.9 L164.5,214.2 L164.9,213.5 L165.3,212.8 L165.7,212.1 L166.1,211.4 L166.5,210.7 L166.8,210.0 L167.2,209.3 L167.5,208.6 L167.9,207.9 L168.2,207.2 L168.5,206.5 L168.9,205.7 L169.2,205.0 L169.5,204.3 L169.8,203.6 L170.1,202.9 L170.4,202.2 L170.7,201.4 L171.0,200.7 L171.2,200.0 L171.5,199.3 L171.8,198.5 L172.1,197.8 L172.4,197.1 L172.6,196.3 L172.9,195.6 L173.2,194.9 L173.5,194.2 L173.8,193.4 L174.0,192.7 L174.3,192.0 L174.6,191.2 L174.9,190.5 L175.2,189.8 L175.5,189.0 L175.8,188.3 L176.1,187.6 L176.4,186.8 L176.7,186.1 L177.0,185.3 L177.4,184.6 L177.7,183.9 L178.0,183.1 L178.3,182.4 L178.6,181.7 L179.0,180.9 L179.3,180.2 L179.6,179.4 L179.9,178.7 L180.3,178.0 L180.6,177.2 L180.9,176.5 L181.3,175.7 L181.6,175.0 L181.9,174.2 L182.3,173.5 L182.6,172.8 L182.9,172.0 L183.3,171.3 L183.6,170.5 L183.9,169.8 L184.3,169.1 L184.6,168.3 L184.9,167.6 L185.3,166.8 L185.6,166.1 L185.9,165.3 L186.2,164.6 L186.6,163.9 L186.9,163.1 L187.2,162.4 L187.5,161.6 L187.8,160.9 L188.2,160.1 L188.5,159.4 L188.8,158.7 L189.1,157.9 L189.4,157.2 L189.7,156.4 L190.0,155.7 L190.3,154.9 L190.6,154.2 L190.9,153.5 L191.2,152.7 L191.5,152.0 L191.7,151.2 L192.0,150.5 L192.3,149.8 L192.6,149.0 L192.8,148.3 L193.1,147.5 L193.3,146.8 L193.6,146.1 L193.9,145.3 L194.1,144.6 L194.4,143.9 L194.6,143.1 L194.9,142.4 L195.1,141.6 L195.4,140.9 L195.7,140.2 L195.9,139.4 L196.2,138.7 L196.5,138.0 L196.8,137.2 L197.0,136.5 L197.3,135.8 L197.6,135.0 L198.0,134.3 L198.3,133.6 L198.6,132.8 L198.9,132.1 L199.3,131.4 L199.7,130.7 L200.0,129.9 L200.4,129.2 L200.8,128.5 L201.3,127.8 L201.7,127.0 L202.1,126.3 L202.6,125.6 L203.1,124.9 L203.6,124.2 L204.1,123.5 L204.6,122.8 L205.1,122.2 L205.7,121.6 L206.3,121.0 L206.8,120.4 L207.4,119.8 L208.0,119.3 L208.6,118.8 L209.3,118.3 L209.9,117.9 L210.6,117.5 L211.3,117.1 L211.9,116.8 L212.6,116.5 L213.3,116.2 L214.1,116.0 L214.8,115.8 L215.5,115.6 L216.3,115.5 L217.0,115.3 L217.8,115.2 L218.5,115.1 L219.3,115.0 L220.1,115.0 L220.8,114.9 L221.6,114.9 L222.4,114.8 L223.2,114.8 L224.0,114.8 L224.8,114.7 L225.6,114.7 L226.4,114.7 L227.2,114.6 L228.0,114.6 L228.8,114.5 L229.5,114.4 L230.3,114.3 L231.1,114.2 L231.9,114.0 L232.7,113.8 L233.4,113.5 L234.2,113.2 L235.0,112.9 L235.7,112.6 L236.4,112.3 L237.2,111.9 L237.9,111.5 L238.6,111.1 L239.3,110.6 L240.0,110.2 L240.7,109.7 L241.4,109.2 L242.0,108.7 L242.7,108.2 L243.3,107.7 L243.9,107.2 L244.5,106.6 L245.1,106.1 L245.7,105.5 L246.3,105.0 L246.8,104.4 L247.4,103.8 L247.9,103.3 L248.5,102.7 L249.0,102.1 L249.5,101.5 L250.0,100.9 L250.5,100.3 L251.0,99.6 L251.4,99.0 L251.9,98.4 L252.4,97.7 L252.8,97.1 L253.3,96.5 L253.7,95.8 L254.2,95.2 L254.6,94.5 L255.0,93.8 L255.5,93.2 L255.9,92.5 L256.3,91.8 L256.7,91.2 L257.1,90.5 L257.6,89.8 L258.0,89.1 L258.4,88.5 L258.8,87.8 L259.2,87.1 L259.6,86.4 L260.0,85.7 L260.4,85.0 L260.8,84.4 L261.3,83.7 L261.7,83.0 L262.1,82.3 L262.5,81.6 L263.0,80.9 L263.4,80.3 L263.8,79.6 L264.3,78.9 L264.8,78.2 L265.2,77.6 L265.7,76.9 L266.2,76.2 L266.7,75.6 L267.1,74.9 L267.7,74.3 L268.2,73.6 L268.7,73.0 L269.2,72.3 L269.8,71.7 L270.3,71.0 L270.9,70.4 L271.5,69.8 L272.1,69.2 L272.7,68.6 L273.3,68.0 L273.9,67.5 L274.6,67.0 L275.2,66.5 L275.9,66.0 L276.5,65.6 L277.2,65.2 L277.9,64.9 L278.5,64.6 L279.2,64.4 L279.9,64.2 L280.6,64.0 L281.3,64.0 L282.0,64.0 L282.7,64.0 L283.3,64.1 L284.0,64.3 L284.7,64.6 L285.3,64.8 L286.0,65.2 L286.6,65.6 L287.2,66.0 L287.8,66.5 L288.4,67.0 L289.0,67.5 L289.5,68.1 L290.0,68.6 L290.6,69.3 L291.0,69.9 L291.5,70.5 L292.0,71.2 L292.4,71.9 L292.8,72.6 L293.2,73.3 L293.7,74.0 L294.1,74.7 L294.4,75.4 L294.8,76.2 L295.2,76.9 L295.6,77.7 L295.9,78.4 L296.3,79.1 L296.7,79.9 L297.0,80.6 L297.4,81.4 L297.8,82.1 L298.1,82.8 L298.5,83.6 L298.8,84.3 L299.2,85.1 L299.5,85.8 L299.9,86.5 L300.2,87.3 L300.6,88.0 L300.9,88.8 L301.2,89.5 L301.6,90.3 L301.9,91.0 L302.2,91.7 L302.6,92.5 L302.9,93.2 L303.2,94.0 L303.5,94.7 L303.8,95.5 L304.2,96.2 L304.5,97.0 L304.8,97.7 L305.1,98.5 L305.4,99.2 L305.7,99.9 L306.0,100.7 L306.3,101.4 L306.6,102.2 L306.9,102.9 L307.2,103.7 L307.5,104.4 L307.8,105.2 L308.1,105.9 L308.4,106.7 L308.7,107.4 L309.0,108.2 L309.3,108.9 L309.6,109.7 L309.9,110.4 L310.2,111.1 L310.5,111.9 L310.7,112.6 L311.0,113.4 L311.3,114.1 L311.6,114.9 L311.9,115.6 L312.1,116.4 L312.4,117.1 L312.7,117.9 L313.0,118.6 L313.3,119.4 L313.5,120.1 L313.8,120.9 L314.1,121.6 L314.4,122.4 L314.6,123.1 L314.9,123.9 L315.2,124.6 L315.4,125.4 L315.7,126.1 L316.0,126.9 L316.3,127.6 L316.5,128.4 L316.8,129.1 L317.1,129.9 L317.3,130.6 L317.6,131.4 L317.9,132.1 L318.1,132.8 L318.4,133.6 L318.7,134.3 L318.9,135.1 L319.2,135.8 L319.5,136.6 L319.7,137.3 L320.0,138.1 L320.3,138.8 L320.5,139.6 L320.8,140.3 L321.1,141.1 L321.3,141.8 L321.6,142.6 L321.9,143.3 L322.1,144.1 L322.4,144.8 L322.7,145.6 L322.9,146.3 L323.2,147.0 L323.5,147.8 L323.8,148.5 L324.0,149.3 L324.3,150.0 L324.6,150.8 L324.8,151.5 L325.1,152.3 L325.4,153.0 L325.7,153.8 L325.9,154.5 L326.2,155.2 L326.5,156.0 L326.8,156.7 L327.1,157.5 L327.3,158.2 L327.6,159.0 L327.9,159.7 L328.2,160.5 L328.5,161.2 L328.8,161.9 L329.0,162.7 L329.3,163.4 L329.6,164.2 L329.9,164.9 L330.2,165.7 L330.5,166.4 L330.8,167.1 L331.1,167.9 L331.4,168.6 L331.7,169.4 L332.0,170.1 L332.3,170.8 L332.6,171.6 L332.9,172.3 L333.2,173.1 L333.5,173.8 L333.8,174.5 L334.1,175.3 L334.4,176.0 L334.8,176.7 L335.1,177.5 L335.4,178.2 L335.7,178.9 L336.0,179.7 L336.4,180.4 L336.7,181.2 L337.0,181.9 L337.4,182.6 L337.7,183.4 L338.0,184.1 L338.4,184.8 L338.7,185.6 L339.0,186.3 L339.4,187.0 L339.7,187.7 L340.1,188.5 L340.4,189.2 L340.8,189.9 L341.1,190.7 L341.5,191.4 L341.9,192.1 L342.2,192.8 L342.6,193.6 L343.0,194.3 L343.3,195.0 L343.7,195.7 L344.1,196.4 L344.5,197.1 L344.9,197.8 L345.2,198.6 L345.6,199.3 L346.0,200.0 L346.4,200.7 L346.8,201.4 L347.2,202.1 L347.6,202.8 L348.0,203.5 L348.4,204.2 L348.9,204.9 L349.3,205.6 L349.7,206.2 L350.1,206.9 L350.5,207.6 L351.0,208.3 L351.4,209.0 L351.8,209.6 L352.3,210.3 L352.7,211.0 L353.2,211.6 L353.6,212.3 L354.1,213.0 L354.5,213.6 L355.0,214.3 L355.5,214.9 L355.9,215.6 L356.4,216.2 L356.9,216.9 L357.4,217.5 L357.8,218.1 L358.3,218.8 L358.8,219.4 L359.3,220.0 L359.8,220.6 L360.3,221.2 L360.8,221.8 L361.3,222.4 L361.8,223.1 L362.4,223.6 L362.9,224.2 L363.4,224.8 L364.0,225.4 L364.5,226.0 L365.0,226.6 L365.6,227.1 L366.1,227.7 L366.7,228.3 L367.2,228.8 L367.8,229.4 L368.4,229.9 L368.9,230.5 L369.5,231.0 L370.1,231.6 L370.7,232.1 L371.3,232.6 L371.9,233.1 L372.5,233.6 L373.1,234.1 L373.7,234.6 L374.3,235.1 L374.3,235.2" stroke="#ff0000" stroke-dasharray="6 2.4 1.6 2.6"/>
<path d="M115.9,254.5 L116.8,254.5 L117.6,254.4 L118.4,254.4 L119.2,254.4 L120.0,254.3 L120.8,254.3 L121.6,254.2 L122.4,254.2 L123.2,254.1 L124.0,254.1 L124.8,254.0 L125.6,254.0 L126.4,253.9 L127.2,253.8 L128.0,253.7 L128.8,253.6 L129.6,253.5 L130.4,253.4 L131.2,253.3 L132.0,253.2 L132.8,253.0 L133.6,252.9 L134.3,252.7 L135.1,252.5 L135.9,252.4 L136.6,252.2 L137.4,251.9 L138.2,251.7 L138.9,251.5 L139.7,251.2 L140.4,251.0 L141.2,250.7 L141.9,250.4 L142.7,250.1 L143.4,249.8 L144.1,249.5 L144.8,249.2 L145.6,248.9 L146.3,248.5 L147.0,248.2 L147.7,247.8 L148.4,247.4 L149.1,247.0 L149.8,246.6 L150.4,246.2 L151.1,245.8 L151.8,245.3 L152.4,244.9 L153.1,244.4 L153.7,244.0 L154.4,243.5 L155.0,243.0 L155.7,242.5 L156.3,242.0 L156.9,241.5 L157.5,241.0 L158.1,240.4 L158.7,239.9 L159.3,239.3 L159.9,238.8 L160.5,238.2 L161.0,237.6 L161.6,237.1 L162.1,236.5 L162.7,235.9 L163.2,235.3 L163.8,234.7 L164.3,234.0 L164.8,233.4 L165.3,232.8 L165.8,232.2 L166.3,231.5 L166.8,230.9 L167.3,230.2 L167.8,229.6 L168.3,228.9 L168.7,228.2 L169.2,227.6 L169.7,226.9 L170.1,226.2 L170.5,225.5 L171.0,224.9 L171.4,224.2 L171.8,223.5 L172.2,222.8 L172.6,222.1 L173.0,221.4 L173.4,220.7 L173.8,220.0 L174.2,219.3 L174.5,218.6 L174.9,217.9 L175.3,217.2 L175.6,216.4 L175.9,215.7 L176.3,215.0 L176.6,214.3 L176.9,213.6 L177.2,212.9 L177.6,212.2 L177.9,211.4 L178.2,210.7 L178.5,210.0 L178.8,209.3 L179.1,208.6 L179.4,207.8 L179.6,207.1 L179.9,206.4 L180.2,205.7 L180.5,204.9 L180.8,204.2 L181.0,203.5 L181.3,202.7 L181.6,202.0 L181.9,201.3 L182.1,200.5 L182.4,199.8 L182.7,199.1 L183.0,198.3 L183.2,197.6 L183.5,196.9 L183.8,196.1 L184.1,195.4 L184.4,194.7 L184.7,193.9 L185.0,193.2 L185.2,192.4 L185.5,191.7 L185.8,190.9 L186.1,190.2 L186.5,189.5 L186.8,188.7 L187.1,188.0 L187.4,187.2 L187.7,186.5 L188.0,185.7 L188.4,185.0 L188.7,184.2 L189.0,183.5 L189.3,182.7 L189.7,182.0 L190.0,181.2 L190.3,180.4 L190.6,179.7 L191.0,178.9 L191.3,178.2 L191.6,177.4 L191.9,176.7 L192.2,175.9 L192.6,175.2 L192.9,174.4 L193.2,173.6 L193.5,172.9 L193.8,172.1 L194.1,171.4 L194.4,170.6 L194.7,169.8 L195.0,169.1 L195.2,168.3 L195.5,167.5 L195.8,166.8 L196.1,166.0 L196.3,165.3 L196.6,164.5 L196.8,163.7 L197.1,163.0 L197.3,162.2 L197.6,161.4 L197.8,160.7 L198.1,159.9 L198.3,159.1 L198.6,158.4 L198.8,157.6 L199.0,156.8 L199.3,156.1 L199.5,155.3 L199.7,154.6 L200.0,153.8 L200.2,153.0 L200.4,152.3 L200.7,151.5 L200.9,150.7 L201.1,150.0 L201.4,149.2 L201.6,148.5 L201.9,147.7 L202.1,147.0 L202.3,146.2 L202.6,145.5 L202.8,144.7 L203.1,143.9 L203.3,143.2 L203.6,142.4 L203.8,141.7 L204.1,141.0 L204.3,140.2 L204.6,139.5 L204.9,138.7 L205.1,138.0 L205.4,137.2 L205.7,136.5 L206.0,135.8 L206.3,135.0 L206.6,134.3 L206.9,133.6 L207.2,132.8 L207.5,132.1 L207.8,131.4 L208.1,130.7 L208.4,129.9 L208.8,129.2 L209.1,128.5 L209.5,127.8 L209.8,127.1 L210.2,126.4 L210.6,125.7 L210.9,124.9 L211.3,124.2 L211.7,123.5 L212.1,122.8 L212.5,122.1 L212.9,121.5 L213.4,120.8 L213.8,120.1 L214.3,119.4 L214.7,118.7 L215.2,118.1 L215.7,117.4 L216.1,116.8 L216.6,116.1 L217.1,115.5 L217.7,114.9 L218.2,114.3 L218.7,113.7 L219.3,113.1 L219.8,112.5 L220.4,111.9 L221.0,111.4 L221.6,110.9 L222.2,110.4 L222.8,109.9 L223.4,109.4 L224.1,108.9 L224.7,108.5 L225.4,108.0 L226.0,107.6 L226.7,107.2 L227.4,106.8 L228.1,106.4 L228.8,106.0 L229.5,105.7 L230.2,105.3 L230.9,104.9 L231.6,104.6 L232.3,104.2 L233.0,103.9 L233.8,103.5 L234.5,103.2 L235.2,102.9 L235.9,102.5 L236.7,102.2 L237.4,101.9 L238.1,101.5 L238.9,101.2 L239.6,100.8 L240.3,100.5 L241.0,100.1 L241.7,99.8 L242.5,99.4 L243.2,99.0 L243.9,98.6 L244.6,98.3 L245.3,97.8 L245.9,97.4 L246.6,97.0 L247.3,96.6 L248.0,96.1 L248.6,95.7 L249.2,95.2 L249.9,94.7 L250.5,94.2 L251.1,93.7 L251.7,93.1 L252.3,92.6 L252.9,92.0 L253.5,91.5 L254.1,90.9 L254.6,90.3 L255.2,89.7 L255.7,89.1 L256.3,88.5 L256.8,87.9 L257.3,87.3 L257.8,86.7 L258.3,86.1 L258.8,85.4 L259.3,84.8 L259.8,84.2 L260.3,83.5 L260.8,82.9 L261.2,82.2 L261.7,81.6 L262.1,80.9 L262.6,80.3 L263.0,79.7 L263.5,79.0 L263.9,78.4 L264.4,77.7 L264.8,77.1 L265.2,76.4 L265.7,75.8 L266.1,75.1 L266.6,74.5 L267.0,73.8 L267.5,73.2 L267.9,72.5 L268.4,71.8 L268.9,71.2 L269.3,70.5 L269.8,69.9 L270.3,69.2 L270.9,68.6 L271.4,67.9 L271.9,67.2 L272.5,66.6 L273.1,66.0 L273.6,65.3 L274.3,64.8 L274.9,64.2 L275.5,63.7 L276.2,63.3 L276.8,62.9 L277.5,62.5 L278.2,62.1 L278.9,61.8 L279.7,61.6 L280.4,61.4 L281.2,61.2 L281.9,61.1 L282.7,61.0 L283.5,61.0 L284.2,61.0 L285.0,61.0 L285.8,61.1 L286.5,61.3 L287.2,61.5 L287.9,61.7 L288.5,62.0 L289.2,62.3 L289.8,62.6 L290.4,63.0 L291.0,63.4 L291.5,63.9 L292.1,64.4 L292.6,64.9 L293.1,65.4 L293.6,66.0 L294.1,66.6 L294.6,67.2 L295.0,67.9 L295.5,68.5 L295.9,69.2 L296.3,69.9 L296.7,70.6 L297.1,71.3 L297.5,72.0 L297.9,72.8 L298.3,73.5 L298.7,74.2 L299.1,75.0 L299.4,75.8 L299.8,76.5 L300.2,77.3 L300.5,78.0 L300.9,78.8 L301.2,79.5 L301.6,80.3 L302.0,81.0 L302.3,81.8 L302.6,82.5 L303.0,83.3 L303.3,84.0 L303.7,84.8 L304.0,85.5 L304.3,86.3 L304.7,87.0 L305.0,87.8 L305.3,88.6 L305.7,89.3 L306.0,90.1 L306.3,90.8 L306.6,91.6 L306.9,92.3 L307.3,93.1 L307.6,93.8 L307.9,94.6 L308.2,95.3 L308.5,96.1 L308.8,96.8 L309.1,97.6 L309.4,98.3 L309.7,99.1 L310.0,99.8 L310.3,100.6 L310.6,101.3 L310.9,102.1 L311.2,102.8 L311.5,103.6 L311.8,104.4 L312.0,105.1 L312.3,105.9 L312.6,106.6 L312.9,107.4 L313.2,108.1 L313.5,108.9 L313.7,109.6 L314.0,110.4 L314.3,111.1 L314.6,111.9 L314.9,112.6 L315.1,113.4 L315.4,114.1 L315.7,114.9 L315.9,115.6 L316.2,116.4 L316.5,117.1 L316.7,117.9 L317.0,118.6 L317.3,119.4 L317.5,120.1 L317.8,120.9 L318.1,121.6 L318.3,122.4 L318.6,123.1 L318.9,123.9 L319.1,124.6 L319.4,125.4 L319.7,126.1 L319.9,126.9 L320.2,127.6 L320.4,128.4 L320.7,129.1 L321.0,129.9 L321.2,130.6 L321.5,131.4 L321.7,132.1 L322.0,132.9 L322.2,133.6 L322.5,134.4 L322.8,135.1 L323.0,135.9 L323.3,136.6 L323.5,137.4 L323.8,138.1 L324.1,138.9 L324.3,139.6 L324.6,140.3 L324.8,141.1 L325.1,141.8 L325.3,142.6 L325.6,143.3 L325.9,144.1 L326.1,144.8 L326.4,145.6 L326.6,146.3 L326.9,147.1 L327.2,147.8 L327.4,148.6 L327.7,149.3 L328.0,150.1 L328.2,150.8 L328.5,151.5 L328.8,152.3 L329.0,153.0 L329.3,153.8 L329.6,154.5 L329.8,155.3 L330.1,156.0 L330.4,156.8 L330.6,157.5 L330.9,158.2 L331.2,159.0 L331.5,159.7 L331.8,160.5 L332.0,161.2 L332.3,162.0 L332.6,162.7 L332.9,163.5 L333.2,164.2 L333.4,164.9 L333.7,165.7 L334.0,166.4 L334.3,167.2 L334.6,167.9 L334.9,168.6 L335.2,169.4 L335.5,170.1 L335.8,170.9 L336.1,171.6 L336.4,172.4 L336.7,173.1 L337.0,173.8 L337.3,174.6 L337.6,175.3 L337.9,176.1 L338.2,176.8 L338.5,177.5 L338.8,178.3 L339.1,179.0 L339.5,179.8 L339.8,180.5 L340.1,181.2 L340.4,182.0 L340.8,182.7 L341.1,183.4 L341.4,184.2 L341.7,184.9 L342.1,185.7 L342.4,186.4 L342.8,187.1 L343.1,187.9 L343.5,188.6 L343.8,189.3 L344.2,190.1 L344.5,190.8 L344.9,191.5 L345.2,192.2 L345.6,193.0 L345.9,193.7 L346.3,194.4 L346.7,195.1 L347.1,195.9 L347.4,196.6 L347.8,197.3 L348.2,198.0 L348.6,198.7 L349.0,199.5 L349.3,200.2 L349.7,200.9 L350.1,201.6 L350.5,202.3 L350.9,203.0 L351.3,203.7 L351.7,204.4 L352.2,205.1 L352.6,205.8 L353.0,206.5 L353.4,207.1 L353.8,207.8 L354.3,208.5 L354.7,209.2 L355.1,209.9 L355.6,210.5 L356.0,211.2 L356.5,211.9 L356.9,212.5 L357.4,213.2 L357.8,213.8 L358.3,214.5 L358.8,215.1 L359.2,215.8 L359.7,216.4 L360.2,217.1 L360.6,217.7 L361.1,218.3 L361.6,219.0 L362.1,219.6 L362.6,220.2 L363.1,220.8 L363.6,221.4 L364.1,222.0 L364.6,222.6 L365.2,223.2 L365.7,223.8 L366.2,224.4 L366.7,225.0 L367.3,225.5 L367.8,226.1 L368.3,226.7 L368.9,227.2 L369.4,227.8 L370.0,228.3 L370.6,228.9 L371.1,229.4 L371.7,230.0 L372.3,230.5 L372.9,231.0 L373.4,231.5 L374.0,232.0 L374.2,232.2" stroke="#0000ff"/>
<path d="M112.0,254.5 L112.8,254.5 L113.6,254.4 L114.4,254.3 L115.2,254.3 L116.0,254.2 L116.8,254.1 L117.6,254.1 L118.4,254.0 L119.2,254.0 L120.0,253.9 L120.8,253.9 L121.6,253.8 L122.4,253.8 L123.2,253.7 L124.0,253.7 L124.8,253.6 L125.6,253.5 L126.4,253.4 L127.2,253.3 L128.0,253.2 L128.7,253.1 L129.5,253.0 L130.3,252.8 L131.1,252.7 L131.8,252.5 L132.6,252.3 L133.4,252.1 L134.1,251.8 L134.9,251.6 L135.6,251.3 L136.4,251.0 L137.1,250.7 L137.9,250.4 L138.6,250.1 L139.3,249.7 L140.1,249.4 L140.8,249.0 L141.5,248.6 L142.2,248.2 L142.9,247.8 L143.6,247.4 L144.3,247.0 L145.0,246.5 L145.7,246.1 L146.4,245.6 L147.0,245.2 L147.7,244.7 L148.3,244.2 L149.0,243.7 L149.6,243.2 L150.3,242.7 L150.9,242.2 L151.5,241.6 L152.1,241.1 L152.7,240.6 L153.3,240.1 L153.9,239.5 L154.5,239.0 L155.1,238.4 L155.6,237.9 L156.2,237.3 L156.8,236.7 L157.3,236.2 L157.9,235.6 L158.4,235.0 L158.9,234.4 L159.4,233.8 L160.0,233.2 L160.5,232.6 L161.0,232.0 L161.5,231.4 L162.0,230.8 L162.5,230.2 L162.9,229.6 L163.4,229.0 L163.9,228.3 L164.3,227.7 L164.8,227.1 L165.2,226.4 L165.7,225.8 L166.1,225.1 L166.6,224.5 L167.0,223.8 L167.4,223.2 L167.9,222.5 L168.3,221.8 L168.7,221.2 L169.1,220.5 L169.5,219.8 L169.9,219.1 L170.3,218.5 L170.7,217.8 L171.1,217.1 L171.4,216.4 L171.8,215.7 L172.2,215.0 L172.6,214.3 L172.9,213.6 L173.3,212.9 L173.6,212.2 L174.0,211.5 L174.3,210.7 L174.7,210.0 L175.0,209.3 L175.4,208.6 L175.7,207.9 L176.0,207.1 L176.4,206.4 L176.7,205.7 L177.0,204.9 L177.3,204.2 L177.7,203.5 L178.0,202.7 L178.3,202.0 L178.6,201.3 L178.9,200.5 L179.2,199.8 L179.5,199.0 L179.8,198.3 L180.1,197.5 L180.4,196.8 L180.7,196.0 L181.0,195.3 L181.3,194.5 L181.6,193.8 L181.9,193.0 L182.1,192.2 L182.4,191.5 L182.7,190.7 L183.0,190.0 L183.3,189.2 L183.6,188.4 L183.8,187.7 L184.1,186.9 L184.4,186.1 L184.7,185.4 L184.9,184.6 L185.2,183.8 L185.5,183.1 L185.7,182.3 L186.0,181.5 L186.3,180.8 L186.6,180.0 L186.8,179.2 L187.1,178.5 L187.4,177.7 L187.6,176.9 L187.9,176.2 L188.2,175.4 L188.5,174.6 L188.7,173.9 L189.0,173.1 L189.3,172.3 L189.5,171.6 L189.8,170.8 L190.1,170.0 L190.4,169.3 L190.6,168.5 L190.9,167.7 L191.2,167.0 L191.5,166.2 L191.7,165.5 L192.0,164.7 L192.3,164.0 L192.6,163.2 L192.9,162.4 L193.1,161.7 L193.4,160.9 L193.7,160.2 L194.0,159.4 L194.3,158.7 L194.6,157.9 L194.8,157.2 L195.1,156.4 L195.4,155.7 L195.7,154.9 L196.0,154.2 L196.3,153.4 L196.6,152.7 L196.9,151.9 L197.1,151.2 L197.4,150.4 L197.7,149.7 L198.0,149.0 L198.3,148.2 L198.6,147.5 L198.9,146.7 L199.2,146.0 L199.4,145.3 L199.7,144.5 L200.0,143.8 L200.3,143.1 L200.6,142.3 L200.9,141.6 L201.2,140.8 L201.5,140.1 L201.8,139.4 L202.0,138.7 L202.3,137.9 L202.6,137.2 L202.9,136.5 L203.2,135.7 L203.5,135.0 L203.8,134.3 L204.1,133.6 L204.3,132.8 L204.6,132.1 L204.9,131.4 L205.2,130.7 L205.5,129.9 L205.8,129.2 L206.1,128.5 L206.3,127.8 L206.6,127.1 L206.9,126.4 L207.2,125.6 L207.5,124.9 L207.8,124.2 L208.1,123.5 L208.4,122.8 L208.8,122.1 L209.1,121.4 L209.5,120.7 L209.9,120.0 L210.3,119.2 L210.8,118.5 L211.2,117.8 L211.7,117.1 L212.2,116.5 L212.7,115.8 L213.2,115.1 L213.8,114.5 L214.4,113.8 L214.9,113.2 L215.6,112.6 L216.2,112.1 L216.8,111.5 L217.5,111.0 L218.1,110.5 L218.8,110.1 L219.5,109.6 L220.2,109.3 L220.9,108.9 L221.6,108.6 L222.3,108.3 L223.1,108.1 L223.8,107.9 L224.6,107.7 L225.3,107.5 L226.1,107.4 L226.9,107.3 L227.6,107.2 L228.4,107.1 L229.2,107.0 L230.0,106.9 L230.7,106.9 L231.5,106.8 L232.3,106.7 L233.1,106.7 L233.9,106.6 L234.6,106.5 L235.4,106.4 L236.1,106.3 L236.9,106.1 L237.6,105.9 L238.4,105.7 L239.1,105.4 L239.8,105.1 L240.5,104.7 L241.2,104.3 L241.9,103.8 L242.6,103.3 L243.3,102.7 L243.9,102.2 L244.5,101.6 L245.2,101.0 L245.8,100.5 L246.3,99.9 L246.9,99.3 L247.5,98.7 L248.0,98.2 L248.6,97.6 L249.1,97.0 L249.7,96.4 L250.2,95.8 L250.7,95.2 L251.2,94.6 L251.7,94.1 L252.2,93.5 L252.7,92.9 L253.2,92.3 L253.6,91.7 L254.1,91.1 L254.6,90.5 L255.1,89.9 L255.5,89.3 L256.0,88.7 L256.5,88.1 L257.0,87.5 L257.5,86.8 L258.0,86.2 L258.5,85.6 L258.9,85.0 L259.4,84.4 L260.0,83.8 L260.5,83.1 L261.0,82.5 L261.5,81.9 L262.0,81.2 L262.5,80.6 L263.0,80.0 L263.5,79.3 L264.1,78.7 L264.6,78.1 L265.1,77.4 L265.6,76.8 L266.1,76.1 L266.6,75.5 L267.1,74.8 L267.6,74.2 L268.1,73.5 L268.6,72.9 L269.1,72.2 L269.5,71.5 L270.0,70.9 L270.5,70.2 L270.9,69.5 L271.4,68.8 L271.8,68.2 L272.3,67.5 L272.7,66.8 L273.1,66.1 L273.6,65.5 L274.0,64.9 L274.5,64.2 L275.1,63.6 L275.6,63.1 L276.2,62.6 L276.9,62.1 L277.6,61.6 L278.4,61.2 L279.2,60.9 L280.1,60.6 L281.0,60.4 L281.9,60.3 L282.8,60.2 L283.6,60.2 L284.4,60.3 L285.1,60.4 L285.9,60.6 L286.6,60.9 L287.2,61.2 L287.9,61.5 L288.5,62.0 L289.1,62.4 L289.7,62.9 L290.2,63.4 L290.7,64.0 L291.3,64.5 L291.8,65.1 L292.3,65.8 L292.7,66.4 L293.2,67.0 L293.7,67.7 L294.1,68.3 L294.6,69.0 L295.1,69.6 L295.5,70.3 L296.0,70.9 L296.4,71.6 L296.8,72.3 L297.3,72.9 L297.7,73.6 L298.1,74.3 L298.5,74.9 L298.9,75.6 L299.3,76.3 L299.7,77.0 L300.1,77.7 L300.5,78.4 L300.9,79.0 L301.3,79.7 L301.7,80.4 L302.1,81.1 L302.4,81.8 L302.8,82.5 L303.2,83.2 L303.5,83.9 L303.9,84.6 L304.2,85.4 L304.6,86.1 L304.9,86.8 L305.3,87.5 L305.6,88.2 L305.9,88.9 L306.3,89.7 L306.6,90.4 L306.9,91.1 L307.3,91.8 L307.6,92.6 L307.9,93.3 L308.2,94.0 L308.5,94.7 L308.8,95.5 L309.1,96.2 L309.4,97.0 L309.7,97.7 L310.0,98.4 L310.3,99.2 L310.6,99.9 L310.9,100.7 L311.2,101.4 L311.5,102.2 L311.8,102.9 L312.0,103.7 L312.3,104.4 L312.6,105.2 L312.9,105.9 L313.1,106.7 L313.4,107.4 L313.7,108.2 L314.0,108.9 L314.2,109.7 L314.5,110.5 L314.7,111.2 L315.0,112.0 L315.3,112.7 L315.5,113.5 L315.8,114.3 L316.0,115.0 L316.3,115.8 L316.5,116.6 L316.8,117.3 L317.0,118.1 L317.3,118.9 L317.5,119.6 L317.8,120.4 L318.0,121.2 L318.3,121.9 L318.5,122.7 L318.8,123.5 L319.0,124.2 L319.3,125.0 L319.5,125.8 L319.8,126.5 L320.0,127.3 L320.2,128.1 L320.5,128.9 L320.7,129.6 L321.0,130.4 L321.2,131.2 L321.5,131.9 L321.7,132.7 L321.9,133.5 L322.2,134.2 L322.4,135.0 L322.7,135.8 L322.9,136.6 L323.2,137.3 L323.4,138.1 L323.6,138.9 L323.9,139.6 L324.1,140.4 L324.4,141.2 L324.6,141.9 L324.9,142.7 L325.1,143.5 L325.4,144.2 L325.6,145.0 L325.9,145.8 L326.2,146.5 L326.4,147.3 L326.7,148.0 L326.9,148.8 L327.2,149.6 L327.4,150.3 L327.7,151.1 L328.0,151.8 L328.2,152.6 L328.5,153.4 L328.8,154.1 L329.1,154.9 L329.3,155.6 L329.6,156.4 L329.9,157.1 L330.2,157.9 L330.4,158.6 L330.7,159.4 L331.0,160.1 L331.3,160.8 L331.6,161.6 L331.9,162.3 L332.2,163.1 L332.5,163.8 L332.8,164.5 L333.1,165.3 L333.4,166.0 L333.7,166.7 L334.0,167.5 L334.3,168.2 L334.6,168.9 L335.0,169.7 L335.3,170.4 L335.6,171.1 L335.9,171.8 L336.2,172.6 L336.6,173.3 L336.9,174.0 L337.2,174.7 L337.6,175.5 L337.9,176.2 L338.2,176.9 L338.6,177.6 L338.9,178.3 L339.2,179.1 L339.6,179.8 L339.9,180.5 L340.3,181.2 L340.6,181.9 L341.0,182.6 L341.3,183.4 L341.7,184.1 L342.0,184.8 L342.4,185.5 L342.7,186.2 L343.1,186.9 L343.4,187.6 L343.8,188.4 L344.1,189.1 L344.5,189.8 L344.9,190.5 L345.2,191.2 L345.6,191.9 L345.9,192.6 L346.3,193.3 L346.7,194.1 L347.0,194.8 L347.4,195.5 L347.8,196.2 L348.1,196.9 L348.5,197.6 L348.9,198.3 L349.2,199.1 L349.6,199.8 L350.0,200.5 L350.4,201.2 L350.7,201.9 L351.1,202.6 L351.5,203.3 L351.9,204.1 L352.2,204.8 L352.6,205.5 L353.0,206.2 L353.4,206.9 L353.8,207.6 L354.2,208.3 L354.6,209.0 L355.0,209.7 L355.4,210.4 L355.8,211.1 L356.2,211.8 L356.6,212.4 L357.1,213.1 L357.5,213.8 L357.9,214.5 L358.4,215.1 L358.8,215.8 L359.2,216.5 L359.7,217.1 L360.2,217.8 L360.6,218.4 L361.1,219.1 L361.6,219.7 L362.1,220.3 L362.6,220.9 L363.1,221.6 L363.6,222.2 L364.1,222.8 L364.6,223.4 L365.1,224.0 L365.7,224.6 L366.2,225.1 L366.8,225.7 L367.3,226.3 L367.9,226.8 L368.5,227.4 L369.1,227.9 L369.7,228.4 L370.3,229.0 L370.9,229.5 L371.6,230.0 L372.2,230.5 L372.9,231.0 L373.5,231.4 L374.2,231.9 L374.5,232.1" stroke="#0000ff" stroke-dasharray="6 2.4 1.6 2.6"/>
<path d="M72.5,254.5 L134.1,254.5 L134.8,254.5 L135.6,254.5 L136.4,254.4 L137.2,254.4 L137.9,254.4 L138.7,254.4 L139.5,254.4 L140.3,254.4 L141.1,254.3 L141.9,254.3 L142.7,254.3 L143.5,254.3 L144.3,254.2 L145.1,254.2 L145.9,254.2 L146.7,254.1 L147.5,254.1 L148.3,254.0 L149.1,253.9 L149.9,253.9 L150.8,253.8 L151.6,253.7 L152.4,253.6 L153.2,253.5 L154.0,253.4 L154.8,253.3 L155.6,253.2 L156.4,253.1 L157.2,252.9 L158.0,252.8 L158.8,252.6 L159.6,252.5 L160.4,252.3 L161.2,252.1 L162.0,251.9 L162.8,251.7 L163.5,251.5 L164.3,251.2 L165.1,251.0 L165.8,250.7 L166.6,250.5 L167.3,250.2 L168.1,249.9 L168.8,249.6 L169.5,249.3 L170.3,249.0 L171.0,248.7 L171.7,248.3 L172.4,248.0 L173.1,247.6 L173.8,247.2 L174.4,246.8 L175.1,246.4 L175.8,246.0 L176.4,245.6 L177.1,245.1 L177.7,244.6 L178.3,244.2 L178.9,243.7 L179.6,243.2 L180.2,242.7 L180.7,242.2 L181.3,241.6 L181.9,241.1 L182.5,240.5 L183.0,240.0 L183.6,239.4 L184.1,238.8 L184.7,238.2 L185.2,237.6 L185.7,237.0 L186.2,236.4 L186.7,235.8 L187.2,235.2 L187.7,234.5 L188.2,233.9 L188.7,233.2 L189.2,232.6 L189.6,231.9 L190.1,231.3 L190.6,230.6 L191.0,229.9 L191.4,229.2 L191.9,228.5 L192.3,227.9 L192.7,227.2 L193.1,226.5 L193.6,225.8 L194.0,225.1 L194.4,224.4 L194.8,223.7 L195.1,223.0 L195.5,222.2 L195.9,221.5 L196.3,220.8 L196.6,220.1 L197.0,219.4 L197.4,218.7 L197.7,217.9 L198.1,217.2 L198.4,216.5 L198.7,215.8 L199.1,215.1 L199.4,214.3 L199.7,213.6 L200.0,212.9 L200.4,212.1 L200.7,211.4 L201.0,210.7 L201.3,209.9 L201.6,209.2 L201.9,208.4 L202.2,207.7 L202.5,206.9 L202.7,206.2 L203.0,205.5 L203.3,204.7 L203.6,204.0 L203.8,203.2 L204.1,202.5 L204.4,201.7 L204.6,201.0 L204.9,200.2 L205.2,199.4 L205.4,198.7 L205.7,197.9 L205.9,197.2 L206.2,196.4 L206.4,195.7 L206.7,194.9 L206.9,194.1 L207.1,193.4 L207.4,192.6 L207.6,191.9 L207.8,191.1 L208.1,190.3 L208.3,189.6 L208.5,188.8 L208.8,188.0 L209.0,187.3 L209.2,186.5 L209.4,185.7 L209.7,185.0 L209.9,184.2 L210.1,183.4 L210.3,182.7 L210.5,181.9 L210.8,181.1 L211.0,180.3 L211.2,179.6 L211.4,178.8 L211.6,178.0 L211.9,177.3 L212.1,176.5 L212.3,175.7 L212.5,175.0 L212.7,174.2 L212.9,173.4 L213.1,172.6 L213.4,171.9 L213.6,171.1 L213.8,170.3 L214.0,169.6 L214.2,168.8 L214.4,168.0 L214.6,167.2 L214.9,166.5 L215.1,165.7 L215.3,164.9 L215.5,164.2 L215.7,163.4 L215.9,162.6 L216.1,161.8 L216.4,161.1 L216.6,160.3 L216.8,159.5 L217.0,158.8 L217.2,158.0 L217.4,157.2 L217.6,156.4 L217.9,155.7 L218.1,154.9 L218.3,154.1 L218.5,153.4 L218.7,152.6 L219.0,151.8 L219.2,151.0 L219.4,150.3 L219.6,149.5 L219.8,148.7 L220.1,148.0 L220.3,147.2 L220.5,146.4 L220.7,145.7 L221.0,144.9 L221.2,144.1 L221.4,143.4 L221.6,142.6 L221.9,141.8 L222.1,141.1 L222.3,140.3 L222.6,139.5 L222.8,138.8 L223.0,138.0 L223.3,137.2 L223.5,136.5 L223.7,135.7 L224.0,134.9 L224.2,134.2 L224.5,133.4 L224.7,132.7 L224.9,131.9 L225.2,131.1 L225.4,130.4 L225.7,129.6 L225.9,128.9 L226.2,128.1 L226.4,127.3 L226.7,126.6 L227.0,125.8 L227.2,125.1 L227.5,124.3 L227.7,123.5 L228.0,122.8 L228.3,122.0 L228.5,121.3 L228.8,120.5 L229.1,119.8 L229.3,119.0 L229.6,118.3 L229.9,117.5 L230.2,116.8 L230.5,116.0 L230.7,115.3 L231.0,114.5 L231.3,113.8 L231.6,113.0 L231.9,112.3 L232.2,111.5 L232.5,110.8 L232.8,110.1 L233.1,109.3 L233.4,108.6 L233.7,107.8 L234.0,107.1 L234.3,106.3 L234.6,105.6 L234.9,104.9 L235.3,104.1 L235.6,103.4 L235.9,102.7 L236.2,101.9 L236.6,101.2 L236.9,100.5 L237.3,99.8 L237.6,99.1 L238.0,98.3 L238.3,97.6 L238.7,96.9 L239.1,96.2 L239.5,95.6 L239.9,94.9 L240.3,94.2 L240.7,93.5 L241.1,92.9 L241.5,92.2 L242.0,91.6 L242.4,90.9 L242.9,90.3 L243.4,89.7 L243.9,89.1 L244.4,88.5 L244.9,87.9 L245.4,87.3 L245.9,86.7 L246.5,86.2 L247.0,85.6 L247.6,85.1 L248.2,84.6 L248.8,84.0 L249.4,83.5 L250.1,83.1 L250.7,82.6 L251.4,82.1 L252.0,81.7 L252.7,81.2 L253.4,80.8 L254.1,80.3 L254.8,79.9 L255.5,79.5 L256.2,79.0 L256.9,78.6 L257.6,78.2 L258.3,77.7 L259.0,77.3 L259.7,76.8 L260.3,76.4 L261.0,75.9 L261.7,75.4 L262.3,74.9 L263.0,74.4 L263.6,73.9 L264.2,73.4 L264.8,72.9 L265.4,72.4 L266.0,71.8 L266.5,71.3 L267.1,70.7 L267.7,70.1 L268.2,69.5 L268.8,69.0 L269.3,68.4 L269.9,67.8 L270.4,67.2 L270.9,66.6 L271.5,66.0 L272.0,65.4 L272.5,64.8 L273.0,64.2 L273.6,63.6 L274.1,62.9 L274.6,62.3 L275.1,61.7 L275.7,61.1 L276.2,60.5 L276.8,59.9 L277.3,59.3 L277.9,58.7 L278.4,58.2 L279.0,57.6 L279.6,57.0 L280.2,56.5 L280.8,55.9 L281.4,55.4 L282.1,54.9 L282.7,54.4 L283.4,53.9 L284.0,53.5 L284.7,53.0 L285.4,52.6 L286.1,52.3 L286.8,51.9 L287.5,51.7 L288.2,51.4 L288.9,51.2 L289.7,51.0 L290.4,50.9 L291.2,50.8 L291.9,50.7 L292.6,50.7 L293.4,50.7 L294.1,50.8 L294.9,50.9 L295.6,51.1 L296.3,51.3 L297.1,51.5 L297.8,51.8 L298.5,52.1 L299.1,52.4 L299.8,52.7 L300.5,53.1 L301.1,53.6 L301.7,54.0 L302.3,54.5 L302.9,55.0 L303.4,55.5 L304.0,56.1 L304.5,56.7 L305.0,57.3 L305.5,57.9 L305.9,58.5 L306.4,59.2 L306.8,59.9 L307.3,60.5 L307.7,61.2 L308.1,62.0 L308.5,62.7 L308.9,63.4 L309.2,64.1 L309.6,64.9 L310.0,65.6 L310.3,66.4 L310.7,67.2 L311.0,67.9 L311.4,68.7 L311.7,69.4 L312.0,70.2 L312.4,71.0 L312.7,71.7 L313.0,72.5 L313.3,73.2 L313.7,74.0 L314.0,74.8 L314.3,75.5 L314.6,76.3 L314.9,77.0 L315.2,77.8 L315.5,78.6 L315.8,79.3 L316.1,80.1 L316.4,80.8 L316.7,81.6 L317.0,82.3 L317.3,83.1 L317.6,83.9 L317.8,84.6 L318.1,85.4 L318.4,86.1 L318.7,86.9 L319.0,87.6 L319.2,88.4 L319.5,89.2 L319.8,89.9 L320.0,90.7 L320.3,91.4 L320.6,92.2 L320.9,92.9 L321.1,93.7 L321.4,94.4 L321.6,95.2 L321.9,96.0 L322.2,96.7 L322.4,97.5 L322.7,98.2 L322.9,99.0 L323.2,99.7 L323.5,100.5 L323.7,101.2 L324.0,102.0 L324.2,102.7 L324.5,103.5 L324.8,104.3 L325.0,105.0 L325.3,105.8 L325.5,106.5 L325.8,107.3 L326.0,108.0 L326.3,108.8 L326.5,109.5 L326.8,110.3 L327.1,111.0 L327.3,111.8 L327.6,112.5 L327.8,113.3 L328.1,114.1 L328.3,114.8 L328.6,115.6 L328.8,116.3 L329.1,117.1 L329.4,117.8 L329.6,118.6 L329.9,119.3 L330.1,120.1 L330.4,120.8 L330.6,121.6 L330.9,122.3 L331.1,123.1 L331.4,123.8 L331.6,124.6 L331.9,125.3 L332.2,126.1 L332.4,126.8 L332.7,127.6 L332.9,128.4 L333.2,129.1 L333.4,129.9 L333.7,130.6 L333.9,131.4 L334.2,132.1 L334.5,132.9 L334.7,133.6 L335.0,134.4 L335.2,135.1 L335.5,135.9 L335.8,136.6 L336.0,137.4 L336.3,138.1 L336.5,138.9 L336.8,139.6 L337.1,140.4 L337.3,141.1 L337.6,141.9 L337.8,142.6 L338.1,143.4 L338.4,144.1 L338.6,144.9 L338.9,145.6 L339.2,146.4 L339.4,147.1 L339.7,147.9 L340.0,148.7 L340.2,149.4 L340.5,150.2 L340.8,150.9 L341.0,151.7 L341.3,152.4 L341.6,153.2 L341.8,153.9 L342.1,154.7 L342.4,155.4 L342.7,156.2 L342.9,156.9 L343.2,157.7 L343.5,158.4 L343.7,159.2 L344.0,159.9 L344.3,160.7 L344.6,161.4 L344.9,162.2 L345.1,162.9 L345.4,163.7 L345.7,164.4 L346.0,165.2 L346.3,165.9 L346.6,166.7 L346.8,167.5 L347.1,168.2 L347.4,169.0 L347.7,169.7 L348.0,170.5 L348.3,171.2 L348.6,172.0 L348.9,172.7 L349.2,173.4 L349.5,174.2 L349.8,174.9 L350.1,175.7 L350.4,176.4 L350.7,177.2 L351.0,177.9 L351.3,178.7 L351.6,179.4 L351.9,180.2 L352.2,180.9 L352.6,181.6 L352.9,182.4 L353.2,183.1 L353.5,183.8 L353.8,184.6 L354.2,185.3 L354.5,186.0 L354.8,186.8 L355.2,187.5 L355.5,188.2 L355.8,189.0 L356.2,189.7 L356.5,190.4 L356.9,191.1 L357.2,191.9 L357.6,192.6 L357.9,193.3 L358.3,194.0 L358.6,194.7 L359.0,195.5 L359.3,196.2 L359.7,196.9 L360.1,197.6 L360.5,198.3 L360.8,199.0 L361.2,199.7 L361.6,200.4 L362.0,201.1 L362.4,201.8 L362.8,202.5 L363.2,203.2 L363.6,203.9 L364.0,204.6 L364.4,205.3 L364.8,206.0 L365.2,206.6 L365.6,207.3 L366.0,208.0 L366.4,208.7 L366.9,209.4 L367.3,210.0 L367.7,210.7 L368.2,211.4 L368.6,212.0 L369.0,212.7 L369.5,213.3 L369.9,214.0 L370.4,214.7 L370.9,215.3 L371.3,216.0 L371.8,216.6 L372.3,217.2 L372.7,217.9 L373.2,218.5 L373.7,219.2 L374.2,219.8 L374.5,220.1" stroke="#000000"/>
<path d="M128.0,254.5 L128.8,254.5 L129.6,254.4 L130.4,254.3 L131.2,254.3 L132.0,254.3 L132.8,254.2 L133.6,254.2 L134.4,254.2 L135.2,254.2 L136.0,254.2 L136.8,254.1 L137.6,254.1 L138.4,254.1 L139.2,254.1 L140.0,254.0 L140.8,254.0 L141.6,254.0 L142.4,253.9 L143.2,253.9 L144.0,253.8 L144.8,253.8 L145.6,253.7 L146.4,253.6 L147.2,253.5 L148.0,253.4 L148.8,253.2 L149.6,253.1 L150.4,253.0 L151.1,252.8 L151.9,252.6 L152.7,252.4 L153.5,252.2 L154.2,252.0 L155.0,251.8 L155.8,251.6 L156.5,251.4 L157.3,251.1 L158.0,250.8 L158.8,250.6 L159.5,250.3 L160.2,250.0 L161.0,249.7 L161.7,249.3 L162.4,249.0 L163.1,248.6 L163.8,248.3 L164.5,247.9 L165.2,247.5 L165.9,247.1 L166.6,246.7 L167.3,246.3 L168.0,245.9 L168.6,245.4 L169.3,245.0 L169.9,244.5 L170.6,244.1 L171.2,243.6 L171.8,243.1 L172.5,242.6 L173.1,242.1 L173.7,241.5 L174.3,241.0 L174.9,240.5 L175.5,239.9 L176.1,239.3 L176.7,238.8 L177.2,238.2 L177.8,237.6 L178.3,237.0 L178.9,236.4 L179.4,235.8 L180.0,235.2 L180.5,234.6 L181.0,233.9 L181.5,233.3 L182.0,232.7 L182.5,232.0 L183.0,231.4 L183.5,230.7 L184.0,230.1 L184.4,229.4 L184.9,228.7 L185.3,228.1 L185.8,227.4 L186.2,226.7 L186.6,226.0 L187.1,225.3 L187.5,224.6 L187.9,223.9 L188.3,223.2 L188.6,222.5 L189.0,221.8 L189.4,221.1 L189.8,220.4 L190.1,219.7 L190.5,219.0 L190.8,218.3 L191.1,217.6 L191.5,216.9 L191.8,216.2 L192.1,215.5 L192.4,214.7 L192.7,214.0 L193.0,213.3 L193.3,212.6 L193.6,211.9 L193.9,211.1 L194.2,210.4 L194.5,209.7 L194.8,209.0 L195.1,208.2 L195.3,207.5 L195.6,206.8 L195.9,206.0 L196.1,205.3 L196.4,204.6 L196.7,203.8 L196.9,203.1 L197.2,202.4 L197.5,201.6 L197.7,200.9 L198.0,200.1 L198.3,199.4 L198.5,198.6 L198.8,197.9 L199.1,197.2 L199.4,196.4 L199.6,195.7 L199.9,194.9 L200.2,194.2 L200.5,193.4 L200.8,192.7 L201.0,191.9 L201.3,191.2 L201.6,190.4 L201.9,189.7 L202.2,188.9 L202.6,188.2 L202.9,187.4 L203.2,186.6 L203.5,185.9 L203.8,185.1 L204.1,184.4 L204.5,183.6 L204.8,182.9 L205.1,182.1 L205.4,181.4 L205.7,180.6 L206.1,179.8 L206.4,179.1 L206.7,178.3 L207.0,177.6 L207.4,176.8 L207.7,176.1 L208.0,175.3 L208.3,174.5 L208.6,173.8 L208.9,173.0 L209.2,172.3 L209.5,171.5 L209.8,170.8 L210.1,170.0 L210.4,169.2 L210.7,168.5 L211.0,167.7 L211.3,167.0 L211.6,166.2 L211.8,165.5 L212.1,164.7 L212.4,164.0 L212.6,163.2 L212.9,162.4 L213.1,161.7 L213.4,160.9 L213.7,160.2 L213.9,159.4 L214.2,158.7 L214.4,157.9 L214.6,157.2 L214.9,156.4 L215.1,155.7 L215.4,154.9 L215.6,154.2 L215.8,153.4 L216.1,152.6 L216.3,151.9 L216.5,151.1 L216.7,150.4 L217.0,149.6 L217.2,148.9 L217.4,148.1 L217.7,147.4 L217.9,146.6 L218.1,145.9 L218.3,145.1 L218.6,144.4 L218.8,143.6 L219.0,142.9 L219.2,142.1 L219.5,141.3 L219.7,140.6 L219.9,139.8 L220.1,139.1 L220.4,138.3 L220.6,137.6 L220.8,136.8 L221.1,136.1 L221.3,135.3 L221.5,134.6 L221.8,133.8 L222.0,133.1 L222.3,132.3 L222.5,131.5 L222.8,130.8 L223.0,130.0 L223.3,129.3 L223.5,128.5 L223.8,127.8 L224.0,127.0 L224.3,126.3 L224.6,125.5 L224.8,124.7 L225.1,124.0 L225.4,123.2 L225.6,122.5 L225.9,121.7 L226.2,121.0 L226.5,120.2 L226.8,119.4 L227.1,118.7 L227.4,117.9 L227.7,117.2 L228.0,116.4 L228.3,115.7 L228.7,114.9 L229.0,114.2 L229.3,113.4 L229.7,112.7 L230.0,111.9 L230.4,111.2 L230.7,110.5 L231.1,109.7 L231.4,109.0 L231.8,108.3 L232.2,107.6 L232.6,106.9 L233.0,106.1 L233.4,105.4 L233.8,104.7 L234.2,104.1 L234.6,103.4 L235.0,102.7 L235.5,102.0 L235.9,101.3 L236.3,100.7 L236.8,100.0 L237.3,99.4 L237.7,98.7 L238.2,98.1 L238.7,97.5 L239.2,96.8 L239.7,96.2 L240.2,95.6 L240.7,95.0 L241.2,94.4 L241.7,93.8 L242.3,93.3 L242.8,92.7 L243.4,92.1 L243.9,91.5 L244.5,91.0 L245.0,90.4 L245.6,89.9 L246.2,89.4 L246.7,88.8 L247.3,88.3 L247.9,87.8 L248.5,87.3 L249.1,86.8 L249.7,86.3 L250.3,85.8 L250.9,85.3 L251.6,84.8 L252.2,84.4 L252.8,83.9 L253.4,83.4 L254.1,83.0 L254.7,82.5 L255.3,82.1 L256.0,81.6 L256.6,81.2 L257.2,80.7 L257.9,80.3 L258.5,79.8 L259.2,79.4 L259.8,78.9 L260.4,78.4 L261.0,78.0 L261.6,77.5 L262.3,77.0 L262.9,76.5 L263.5,75.9 L264.1,75.4 L264.7,74.9 L265.2,74.3 L265.8,73.8 L266.4,73.2 L267.0,72.6 L267.6,72.1 L268.1,71.5 L268.7,70.9 L269.3,70.3 L269.8,69.7 L270.4,69.1 L271.0,68.5 L271.5,67.9 L272.1,67.3 L272.7,66.7 L273.2,66.1 L273.8,65.5 L274.4,64.9 L275.0,64.4 L275.5,63.8 L276.1,63.2 L276.7,62.6 L277.3,62.0 L277.9,61.4 L278.5,60.9 L279.1,60.3 L279.7,59.7 L280.3,59.2 L280.9,58.7 L281.5,58.1 L282.1,57.6 L282.8,57.1 L283.4,56.7 L284.1,56.2 L284.7,55.8 L285.4,55.3 L286.1,55.0 L286.7,54.6 L287.4,54.2 L288.1,53.9 L288.9,53.6 L289.6,53.4 L290.3,53.2 L291.1,53.0 L291.8,52.8 L292.6,52.7 L293.3,52.6 L294.1,52.6 L294.9,52.6 L295.6,52.6 L296.4,52.7 L297.2,52.9 L297.9,53.0 L298.6,53.3 L299.4,53.6 L300.1,53.9 L300.7,54.3 L301.4,54.7 L302.0,55.1 L302.6,55.6 L303.2,56.1 L303.8,56.7 L304.3,57.2 L304.8,57.8 L305.3,58.4 L305.8,59.0 L306.3,59.7 L306.7,60.3 L307.1,61.0 L307.5,61.7 L308.0,62.4 L308.3,63.1 L308.7,63.9 L309.1,64.6 L309.5,65.3 L309.8,66.1 L310.2,66.9 L310.5,67.6 L310.9,68.4 L311.2,69.1 L311.5,69.9 L311.9,70.6 L312.2,71.4 L312.5,72.1 L312.9,72.9 L313.2,73.6 L313.5,74.4 L313.8,75.1 L314.2,75.9 L314.5,76.6 L314.8,77.4 L315.1,78.1 L315.4,78.9 L315.7,79.6 L316.0,80.4 L316.3,81.1 L316.7,81.9 L317.0,82.6 L317.3,83.3 L317.6,84.1 L317.9,84.8 L318.1,85.6 L318.4,86.3 L318.7,87.1 L319.0,87.8 L319.3,88.5 L319.6,89.3 L319.9,90.0 L320.2,90.8 L320.4,91.5 L320.7,92.3 L321.0,93.0 L321.3,93.7 L321.6,94.5 L321.8,95.2 L322.1,96.0 L322.4,96.7 L322.7,97.5 L322.9,98.2 L323.2,99.0 L323.5,99.7 L323.7,100.5 L324.0,101.2 L324.3,102.0 L324.5,102.7 L324.8,103.5 L325.0,104.2 L325.3,105.0 L325.6,105.7 L325.8,106.5 L326.1,107.2 L326.3,108.0 L326.6,108.7 L326.9,109.5 L327.1,110.2 L327.4,111.0 L327.6,111.7 L327.9,112.5 L328.1,113.2 L328.4,114.0 L328.6,114.8 L328.9,115.5 L329.1,116.3 L329.4,117.0 L329.6,117.8 L329.9,118.5 L330.1,119.3 L330.4,120.1 L330.6,120.8 L330.9,121.6 L331.1,122.3 L331.4,123.1 L331.6,123.9 L331.9,124.6 L332.1,125.4 L332.4,126.1 L332.6,126.9 L332.8,127.7 L333.1,128.4 L333.3,129.2 L333.6,129.9 L333.8,130.7 L334.1,131.5 L334.3,132.2 L334.6,133.0 L334.8,133.7 L335.1,134.5 L335.3,135.3 L335.6,136.0 L335.8,136.8 L336.1,137.5 L336.3,138.3 L336.6,139.1 L336.8,139.8 L337.1,140.6 L337.3,141.3 L337.6,142.1 L337.8,142.9 L338.1,143.6 L338.3,144.4 L338.6,145.1 L338.8,145.9 L339.1,146.7 L339.4,147.4 L339.6,148.2 L339.9,148.9 L340.1,149.7 L340.4,150.5 L340.7,151.2 L340.9,152.0 L341.2,152.7 L341.5,153.5 L341.7,154.2 L342.0,155.0 L342.3,155.8 L342.5,156.5 L342.8,157.3 L343.1,158.0 L343.3,158.8 L343.6,159.5 L343.9,160.3 L344.2,161.0 L344.4,161.8 L344.7,162.5 L345.0,163.3 L345.3,164.0 L345.6,164.8 L345.9,165.5 L346.1,166.3 L346.4,167.0 L346.7,167.8 L347.0,168.5 L347.3,169.3 L347.6,170.0 L347.9,170.8 L348.2,171.5 L348.5,172.3 L348.8,173.0 L349.1,173.7 L349.4,174.5 L349.7,175.2 L350.0,176.0 L350.3,176.7 L350.7,177.4 L351.0,178.2 L351.3,178.9 L351.6,179.6 L351.9,180.4 L352.3,181.1 L352.6,181.8 L352.9,182.6 L353.2,183.3 L353.6,184.0 L353.9,184.8 L354.2,185.5 L354.6,186.2 L354.9,186.9 L355.2,187.7 L355.6,188.4 L355.9,189.1 L356.3,189.8 L356.6,190.5 L357.0,191.3 L357.3,192.0 L357.7,192.7 L358.1,193.4 L358.4,194.1 L358.8,194.8 L359.2,195.5 L359.5,196.2 L359.9,196.9 L360.3,197.7 L360.7,198.4 L361.0,199.1 L361.4,199.8 L361.8,200.5 L362.2,201.2 L362.6,201.9 L363.0,202.5 L363.4,203.2 L363.8,203.9 L364.2,204.6 L364.6,205.3 L365.0,206.0 L365.4,206.7 L365.8,207.4 L366.2,208.0 L366.6,208.7 L367.1,209.4 L367.5,210.1 L367.9,210.8 L368.3,211.4 L368.8,212.1 L369.2,212.8 L369.7,213.4 L370.1,214.1 L370.5,214.8 L371.0,215.4 L371.4,216.1 L371.9,216.7 L372.4,217.4 L372.8,218.0 L373.3,218.7 L373.8,219.3 L374.2,220.0 L374.4,220.2" stroke="#000000" stroke-dasharray="6 2.4 1.6 2.6"/>
</g>
<rect x="72.5" y="14.5" width="302" height="240" fill="none" stroke="#000" stroke-width="1"/>
<g class="t">
<text x="64.8" y="259.1" text-anchor="end">0</text>
<text x="64.8" y="219.1" text-anchor="end">0.05</text>
<text x="64.8" y="179.1" text-anchor="end">0.1</text>
<text x="64.8" y="139.1" text-anchor="end">0.15</text>
<text x="64.8" y="99.1" text-anchor="end">0.2</text>
<text x="64.8" y="59.1" text-anchor="end">0.25</text>
<text x="64.8" y="19.1" text-anchor="end">0.3</text>
<text x="136.39" y="273.9" text-anchor="middle">0.1</text>
<text x="256.10" y="273.9" text-anchor="middle">1</text>
<text x="376.50" y="273.9" text-anchor="middle">10</text>
<text x="255.2" y="294.0" text-anchor="middle">T</text>
<text transform="translate(33.8,134.3) rotate(-90)" text-anchor="middle">C/N</text>
<text x="134.5" y="32.30" text-anchor="end">30, 2.5</text>
<text x="134.5" y="46.05" text-anchor="end">36, 2.5</text>
<text x="134.5" y="59.80" text-anchor="end">30, 3.0</text>
<text x="134.5" y="73.55" text-anchor="end">36, 3.0</text>
<text x="134.5" y="87.30" text-anchor="end">30, 3.2</text>
<text x="134.5" y="101.05" text-anchor="end">36, 3.2</text>
<text x="134.5" y="114.80" text-anchor="end">30, 4.0</text>
<text x="134.5" y="128.55" text-anchor="end">36, 4.0</text>
</g>
<g>
<path d="M142.2,27.00 H178.8" stroke="#00ff00" stroke-width="1.7" fill="none"/>
<path d="M142.2,40.75 H178.8" stroke="#00ff00" stroke-width="1.7" fill="none" stroke-dasharray="6 2.4 1.6 2.6"/>
<path d="M142.2,54.50 H178.8" stroke="#ff0000" stroke-width="1.7" fill="none"/>
<path d="M142.2,68.25 H178.8" stroke="#ff0000" stroke-width="1.7" fill="none" stroke-dasharray="6 2.4 1.6 2.6"/>
<path d="M142.2,82.00 H178.8" stroke="#0000ff" stroke-width="1.7" fill="none"/>
<path d="M142.2,95.75 H178.8" stroke="#0000ff" stroke-width="1.7" fill="none" stroke-dasharray="6 2.4 1.6 2.6"/>
<path d="M142.2,109.50 H178.8" stroke="#000000" stroke-width="1.7" fill="none"/>
<path d="M142.2,123.25 H178.8" stroke="#000000" stroke-width="1.7" fill="none" stroke-dasharray="6 2.4 1.6 2.6"/>
</g>
</svg>
</body></html>
